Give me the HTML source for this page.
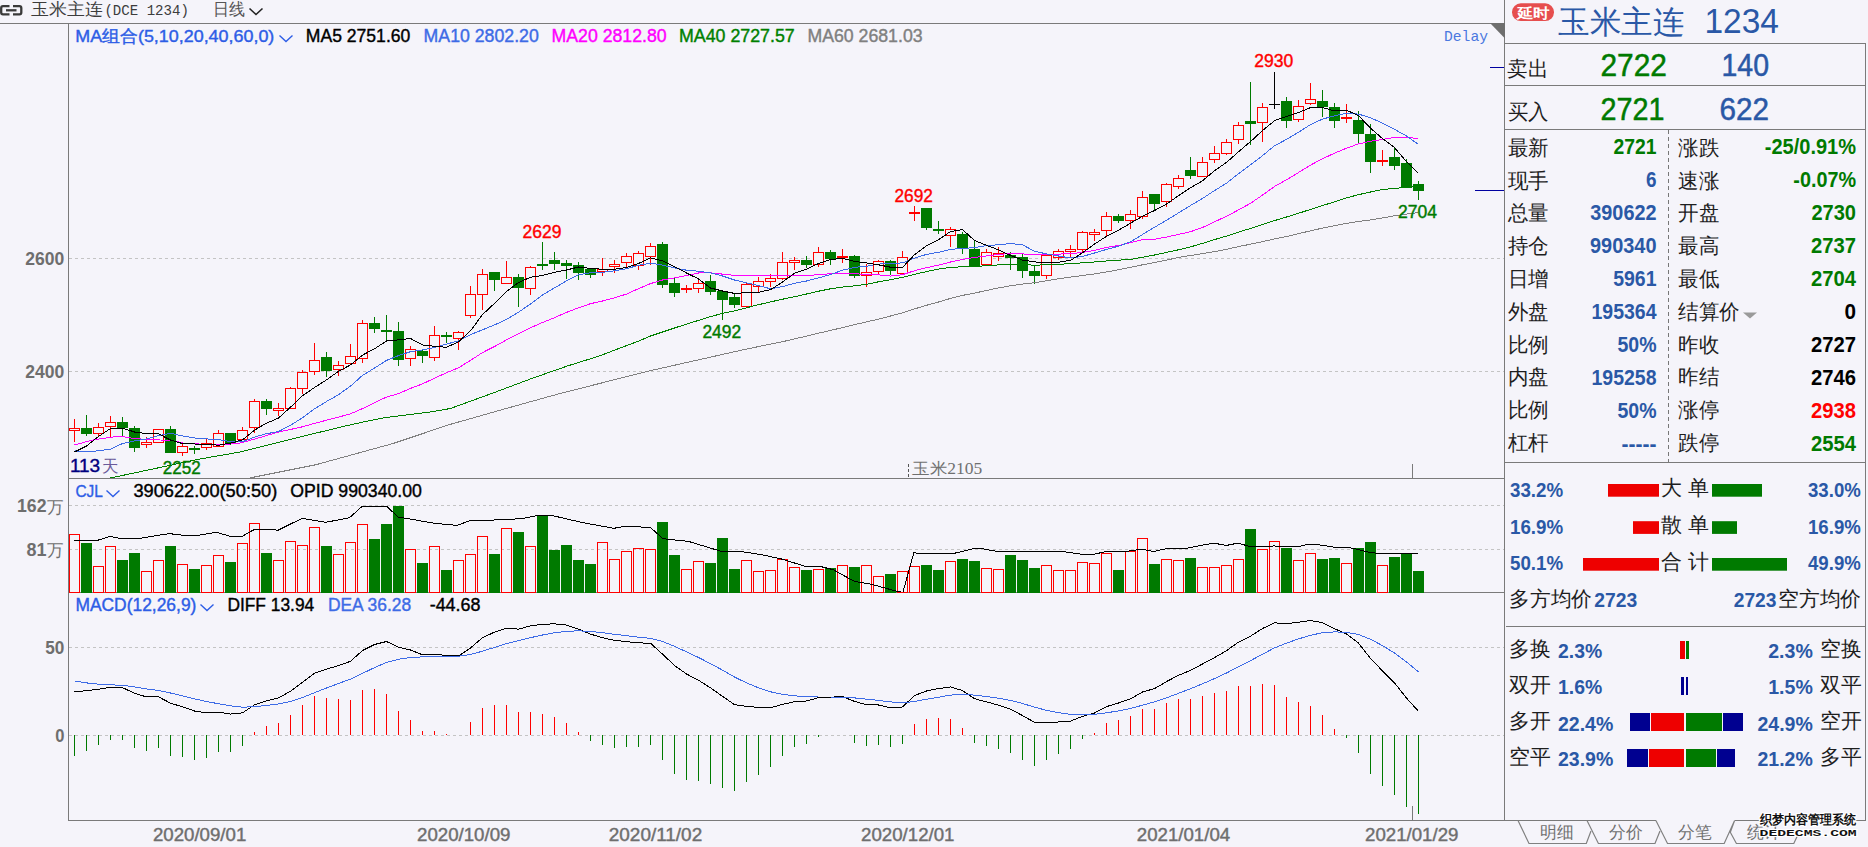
<!DOCTYPE html>
<html><head><meta charset="utf-8"><title>chart</title>
<style>html,body{margin:0;padding:0;background:#f5f4fa;width:1868px;height:847px;overflow:hidden}</style>
</head><body>
<svg width="1868" height="847" viewBox="0 0 1868 847" style="display:block"><rect x="0" y="0" width="1868" height="847" fill="#f5f4fa"/><line x1="69" y1="258.5" x2="1504" y2="258.5" stroke="#c4c4c4" stroke-width="1" stroke-dasharray="3,3" shape-rendering="crispEdges"/><line x1="69" y1="371.5" x2="1504" y2="371.5" stroke="#c4c4c4" stroke-width="1" stroke-dasharray="3,3" shape-rendering="crispEdges"/><line x1="69" y1="505.5" x2="1504" y2="505.5" stroke="#c4c4c4" stroke-width="1" stroke-dasharray="3,3" shape-rendering="crispEdges"/><line x1="69" y1="549.5" x2="1504" y2="549.5" stroke="#c4c4c4" stroke-width="1" stroke-dasharray="3,3" shape-rendering="crispEdges"/><line x1="69" y1="647.5" x2="1504" y2="647.5" stroke="#c4c4c4" stroke-width="1" stroke-dasharray="3,3" shape-rendering="crispEdges"/><line x1="69" y1="735.5" x2="1504" y2="735.5" stroke="#c4c4c4" stroke-width="1" stroke-dasharray="3,3" shape-rendering="crispEdges"/><line x1="0" y1="23.5" x2="1505" y2="23.5" stroke="#7a7a7a" stroke-width="1.5" shape-rendering="crispEdges"/><line x1="68.5" y1="23" x2="68.5" y2="820.5" stroke="#7a7a7a" stroke-width="1.5" shape-rendering="crispEdges"/><line x1="1504.5" y1="0" x2="1504.5" y2="820.5" stroke="#7a7a7a" stroke-width="1.5" shape-rendering="crispEdges"/><line x1="68" y1="478.5" x2="1505" y2="478.5" stroke="#7a7a7a" stroke-width="1.5" shape-rendering="crispEdges"/><line x1="68" y1="592.5" x2="1505" y2="592.5" stroke="#7a7a7a" stroke-width="1.5" shape-rendering="crispEdges"/><line x1="68" y1="820.5" x2="1505" y2="820.5" stroke="#7a7a7a" stroke-width="1.5" shape-rendering="crispEdges"/><polygon points="1490,23 1505,23 1505,38.5" fill="#6e6e6e"/><line x1="1490" y1="67.5" x2="1504" y2="67.5" stroke="#0000a0" stroke-width="1.2" shape-rendering="crispEdges"/><line x1="1475" y1="190.5" x2="1504" y2="190.5" stroke="#0000a0" stroke-width="1.2" shape-rendering="crispEdges"/><line x1="1412.5" y1="464" x2="1412.5" y2="478" stroke="#7a7a7a" stroke-width="1.2" shape-rendering="crispEdges"/><line x1="1412.5" y1="806" x2="1412.5" y2="820" stroke="#7a7a7a" stroke-width="1.2" shape-rendering="crispEdges"/><line x1="908.5" y1="464" x2="908.5" y2="478" stroke="#555" stroke-width="1" stroke-dasharray="3,2" shape-rendering="crispEdges"/><g shape-rendering="crispEdges"><rect x="74.0" y="419.0" width="1" height="23.0" fill="#ff0000"/><rect x="69.5" y="428.5" width="10" height="2.0" fill="#f5f4fa" stroke="#ff0000" stroke-width="1"/><rect x="86.0" y="415.0" width="1" height="21.0" fill="#007a00"/><rect x="81.0" y="428.0" width="11" height="6.0" fill="#007a00"/><rect x="98.0" y="423.0" width="1" height="13.0" fill="#ff0000"/><rect x="93.5" y="427.5" width="10" height="6.0" fill="#f5f4fa" stroke="#ff0000" stroke-width="1"/><rect x="110.0" y="416.0" width="1" height="21.0" fill="#ff0000"/><rect x="105.5" y="422.5" width="10" height="4.0" fill="#f5f4fa" stroke="#ff0000" stroke-width="1"/><rect x="122.0" y="417.0" width="1" height="19.0" fill="#007a00"/><rect x="117.0" y="422.0" width="11" height="6.0" fill="#007a00"/><rect x="134.0" y="426.0" width="1" height="26.0" fill="#007a00"/><rect x="129.0" y="428.0" width="11" height="20.0" fill="#007a00"/><rect x="146.0" y="437.0" width="1" height="11.0" fill="#ff0000"/><rect x="141.5" y="442.0" width="10" height="2.0" fill="#f5f4fa" stroke="#ff0000" stroke-width="1"/><rect x="158.0" y="429.0" width="1" height="13.5" fill="#ff0000"/><rect x="153.5" y="429.0" width="10" height="13.5" fill="#f5f4fa" stroke="#ff0000" stroke-width="1"/><rect x="170.0" y="426.0" width="1" height="27.0" fill="#007a00"/><rect x="165.0" y="429.0" width="11" height="24.0" fill="#007a00"/><rect x="182.0" y="444.0" width="1" height="12.0" fill="#ff0000"/><rect x="177.5" y="446.0" width="10" height="6.5" fill="#f5f4fa" stroke="#ff0000" stroke-width="1"/><rect x="194.0" y="446.0" width="1" height="8.0" fill="#007a00"/><rect x="189.0" y="448.0" width="11" height="2.0" fill="#007a00"/><rect x="206.0" y="438.5" width="1" height="11.5" fill="#ff0000"/><rect x="201.5" y="443.5" width="10" height="4.0" fill="#f5f4fa" stroke="#ff0000" stroke-width="1"/><rect x="218.0" y="430.0" width="1" height="17.0" fill="#ff0000"/><rect x="213.5" y="433.5" width="10" height="12.5" fill="#f5f4fa" stroke="#ff0000" stroke-width="1"/><rect x="230.0" y="433.0" width="1" height="12.0" fill="#007a00"/><rect x="225.0" y="433.0" width="11" height="9.5" fill="#007a00"/><rect x="242.0" y="427.0" width="1" height="13.0" fill="#ff0000"/><rect x="237.5" y="430.0" width="10" height="9.0" fill="#f5f4fa" stroke="#ff0000" stroke-width="1"/><rect x="254.0" y="399.3" width="1" height="33.2" fill="#ff0000"/><rect x="249.5" y="401.2" width="10" height="26.2" fill="#f5f4fa" stroke="#ff0000" stroke-width="1"/><rect x="266.0" y="399.3" width="1" height="15.4" fill="#007a00"/><rect x="261.0" y="401.2" width="11" height="7.4" fill="#007a00"/><rect x="278.0" y="403.1" width="1" height="12.6" fill="#ff0000"/><rect x="273.5" y="408.2" width="10" height="2.4" fill="#f5f4fa" stroke="#ff0000" stroke-width="1"/><rect x="290.0" y="387.2" width="1" height="22.2" fill="#ff0000"/><rect x="285.5" y="388.2" width="10" height="20.4" fill="#f5f4fa" stroke="#ff0000" stroke-width="1"/><rect x="302.0" y="370.2" width="1" height="23.3" fill="#ff0000"/><rect x="297.5" y="372.2" width="10" height="16.4" fill="#f5f4fa" stroke="#ff0000" stroke-width="1"/><rect x="314.0" y="343.1" width="1" height="31.5" fill="#ff0000"/><rect x="309.5" y="360.1" width="10" height="11.3" fill="#f5f4fa" stroke="#ff0000" stroke-width="1"/><rect x="326.0" y="352.1" width="1" height="24.4" fill="#007a00"/><rect x="321.0" y="357.2" width="11" height="13.5" fill="#007a00"/><rect x="338.0" y="361.1" width="1" height="14.7" fill="#ff0000"/><rect x="333.5" y="365.2" width="10" height="4.4" fill="#f5f4fa" stroke="#ff0000" stroke-width="1"/><rect x="350.0" y="344.0" width="1" height="19.5" fill="#ff0000"/><rect x="345.5" y="356.3" width="10" height="7.2" fill="#f5f4fa" stroke="#ff0000" stroke-width="1"/><rect x="362.0" y="319.9" width="1" height="42.9" fill="#ff0000"/><rect x="357.5" y="323.2" width="10" height="35.3" fill="#f5f4fa" stroke="#ff0000" stroke-width="1"/><rect x="374.0" y="317.0" width="1" height="15.8" fill="#007a00"/><rect x="369.0" y="323.2" width="11" height="5.4" fill="#007a00"/><rect x="381.0" y="329.9" width="11" height="2" fill="#007a00"/><rect x="386.0" y="315.0" width="1" height="26.3" fill="#007a00"/><rect x="398.0" y="322.0" width="1" height="43.9" fill="#007a00"/><rect x="393.0" y="331.0" width="11" height="28.6" fill="#007a00"/><rect x="410.0" y="346.1" width="1" height="19.8" fill="#ff0000"/><rect x="405.5" y="349.2" width="10" height="9.2" fill="#f5f4fa" stroke="#ff0000" stroke-width="1"/><rect x="422.0" y="349.0" width="1" height="13.8" fill="#007a00"/><rect x="417.0" y="351.0" width="11" height="4.6" fill="#007a00"/><rect x="434.0" y="325.9" width="1" height="35.0" fill="#ff0000"/><rect x="429.5" y="335.3" width="10" height="22.2" fill="#f5f4fa" stroke="#ff0000" stroke-width="1"/><rect x="441.0" y="335.0" width="11" height="2" fill="#007a00"/><rect x="446.0" y="332.0" width="1" height="10.8" fill="#007a00"/><rect x="458.0" y="331.0" width="1" height="18.5" fill="#ff0000"/><rect x="453.5" y="332.2" width="10" height="6.4" fill="#f5f4fa" stroke="#ff0000" stroke-width="1"/><rect x="470.0" y="286.1" width="1" height="31.6" fill="#ff0000"/><rect x="465.5" y="294.3" width="10" height="21.2" fill="#f5f4fa" stroke="#ff0000" stroke-width="1"/><rect x="482.0" y="269.1" width="1" height="40.6" fill="#ff0000"/><rect x="477.5" y="274.3" width="10" height="20.0" fill="#f5f4fa" stroke="#ff0000" stroke-width="1"/><rect x="494.0" y="272.1" width="1" height="18.9" fill="#007a00"/><rect x="489.0" y="272.1" width="11" height="7.5" fill="#007a00"/><rect x="506.0" y="261.1" width="1" height="22.4" fill="#ff0000"/><rect x="501.5" y="277.3" width="10" height="6.2" fill="#f5f4fa" stroke="#ff0000" stroke-width="1"/><rect x="518.0" y="274.1" width="1" height="32.7" fill="#007a00"/><rect x="513.0" y="277.2" width="11" height="10.4" fill="#007a00"/><rect x="530.0" y="266.1" width="1" height="28.7" fill="#ff0000"/><rect x="525.5" y="267.1" width="10" height="21.4" fill="#f5f4fa" stroke="#ff0000" stroke-width="1"/><rect x="537.0" y="263.9" width="11" height="2" fill="#007a00"/><rect x="542.0" y="242.0" width="1" height="27.7" fill="#007a00"/><rect x="554.0" y="251.9" width="1" height="17.8" fill="#007a00"/><rect x="549.0" y="260.1" width="11" height="3.7" fill="#007a00"/><rect x="566.0" y="260.1" width="1" height="18.8" fill="#007a00"/><rect x="561.0" y="263.2" width="11" height="2.5" fill="#007a00"/><rect x="578.0" y="262.0" width="1" height="17.9" fill="#007a00"/><rect x="573.0" y="265.1" width="11" height="7.5" fill="#007a00"/><rect x="590.0" y="269.1" width="1" height="8.8" fill="#007a00"/><rect x="585.0" y="269.1" width="11" height="5.6" fill="#007a00"/><rect x="602.0" y="258.2" width="1" height="17.3" fill="#ff0000"/><rect x="597.5" y="269.3" width="10" height="2.4" fill="#f5f4fa" stroke="#ff0000" stroke-width="1"/><rect x="614.0" y="260.1" width="1" height="12.5" fill="#ff0000"/><rect x="609.5" y="264.2" width="10" height="2.4" fill="#f5f4fa" stroke="#ff0000" stroke-width="1"/><rect x="626.0" y="253.2" width="1" height="13.8" fill="#ff0000"/><rect x="621.5" y="256.2" width="10" height="6.3" fill="#f5f4fa" stroke="#ff0000" stroke-width="1"/><rect x="638.0" y="251.2" width="1" height="18.5" fill="#ff0000"/><rect x="633.5" y="253.3" width="10" height="12.1" fill="#f5f4fa" stroke="#ff0000" stroke-width="1"/><rect x="650.0" y="243.0" width="1" height="21.7" fill="#ff0000"/><rect x="645.5" y="246.1" width="10" height="10.3" fill="#f5f4fa" stroke="#ff0000" stroke-width="1"/><rect x="662.0" y="242.3" width="1" height="45.5" fill="#007a00"/><rect x="657.0" y="244.2" width="11" height="40.5" fill="#007a00"/><rect x="674.0" y="278.1" width="1" height="18.6" fill="#007a00"/><rect x="669.0" y="283.2" width="11" height="9.5" fill="#007a00"/><rect x="681.0" y="287.9" width="11" height="2" fill="#ff0000"/><rect x="686.0" y="285.2" width="1" height="7.7" fill="#ff0000"/><rect x="698.0" y="278.1" width="1" height="14.8" fill="#ff0000"/><rect x="693.5" y="283.2" width="10" height="5.3" fill="#f5f4fa" stroke="#ff0000" stroke-width="1"/><rect x="710.0" y="275.0" width="1" height="19.8" fill="#007a00"/><rect x="705.0" y="281.0" width="11" height="10.6" fill="#007a00"/><rect x="722.0" y="290.6" width="1" height="28.9" fill="#007a00"/><rect x="717.0" y="290.6" width="11" height="9.0" fill="#007a00"/><rect x="734.0" y="293.8" width="1" height="14.0" fill="#007a00"/><rect x="729.0" y="296.9" width="11" height="7.8" fill="#007a00"/><rect x="746.0" y="283.2" width="1" height="23.2" fill="#ff0000"/><rect x="741.5" y="284.2" width="10" height="22.2" fill="#f5f4fa" stroke="#ff0000" stroke-width="1"/><rect x="758.0" y="277.2" width="1" height="15.7" fill="#ff0000"/><rect x="753.5" y="281.3" width="10" height="5.0" fill="#f5f4fa" stroke="#ff0000" stroke-width="1"/><rect x="770.0" y="274.3" width="1" height="12.3" fill="#ff0000"/><rect x="765.5" y="278.1" width="10" height="3.2" fill="#f5f4fa" stroke="#ff0000" stroke-width="1"/><rect x="782.0" y="252.2" width="1" height="27.7" fill="#ff0000"/><rect x="777.5" y="262.2" width="10" height="16.2" fill="#f5f4fa" stroke="#ff0000" stroke-width="1"/><rect x="794.0" y="257.1" width="1" height="12.6" fill="#ff0000"/><rect x="789.5" y="260.4" width="10" height="2.2" fill="#f5f4fa" stroke="#ff0000" stroke-width="1"/><rect x="806.0" y="255.9" width="1" height="12.5" fill="#007a00"/><rect x="801.0" y="260.0" width="11" height="4.6" fill="#007a00"/><rect x="818.0" y="247.0" width="1" height="19.5" fill="#ff0000"/><rect x="813.5" y="252.3" width="10" height="12.1" fill="#f5f4fa" stroke="#ff0000" stroke-width="1"/><rect x="830.0" y="250.1" width="1" height="14.7" fill="#007a00"/><rect x="825.0" y="252.0" width="11" height="6.5" fill="#007a00"/><rect x="837.0" y="256.0" width="11" height="2" fill="#ff0000"/><rect x="842.0" y="249.2" width="1" height="13.5" fill="#ff0000"/><rect x="854.0" y="255.4" width="1" height="22.2" fill="#007a00"/><rect x="849.0" y="255.9" width="11" height="19.8" fill="#007a00"/><rect x="866.0" y="264.1" width="1" height="22.9" fill="#ff0000"/><rect x="861.5" y="272.3" width="10" height="3.1" fill="#f5f4fa" stroke="#ff0000" stroke-width="1"/><rect x="878.0" y="260.0" width="1" height="13.7" fill="#ff0000"/><rect x="873.5" y="261.2" width="10" height="10.3" fill="#f5f4fa" stroke="#ff0000" stroke-width="1"/><rect x="890.0" y="260.2" width="1" height="14.5" fill="#007a00"/><rect x="885.0" y="261.0" width="11" height="9.6" fill="#007a00"/><rect x="902.0" y="251.1" width="1" height="22.2" fill="#ff0000"/><rect x="897.5" y="257.3" width="10" height="16.0" fill="#f5f4fa" stroke="#ff0000" stroke-width="1"/><rect x="909.0" y="211.8" width="11" height="2" fill="#ff0000"/><rect x="914.0" y="206.3" width="1" height="14.4" fill="#ff0000"/><rect x="926.0" y="208.2" width="1" height="21.7" fill="#007a00"/><rect x="921.0" y="208.2" width="11" height="19.8" fill="#007a00"/><rect x="933.0" y="228.9" width="11" height="2" fill="#007a00"/><rect x="938.0" y="221.0" width="1" height="12.7" fill="#007a00"/><rect x="950.0" y="227.2" width="1" height="19.6" fill="#ff0000"/><rect x="945.5" y="229.4" width="10" height="6.2" fill="#f5f4fa" stroke="#ff0000" stroke-width="1"/><rect x="962.0" y="232.3" width="1" height="21.7" fill="#007a00"/><rect x="957.0" y="234.2" width="11" height="13.5" fill="#007a00"/><rect x="974.0" y="240.4" width="1" height="26.0" fill="#007a00"/><rect x="969.0" y="249.0" width="11" height="17.4" fill="#007a00"/><rect x="986.0" y="249.0" width="1" height="15.7" fill="#ff0000"/><rect x="981.5" y="252.1" width="10" height="12.6" fill="#f5f4fa" stroke="#ff0000" stroke-width="1"/><rect x="998.0" y="247.1" width="1" height="13.5" fill="#ff0000"/><rect x="993.5" y="253.4" width="10" height="3.1" fill="#f5f4fa" stroke="#ff0000" stroke-width="1"/><rect x="1010.0" y="252.1" width="1" height="17.7" fill="#007a00"/><rect x="1005.0" y="255.0" width="11" height="2.9" fill="#007a00"/><rect x="1022.0" y="253.9" width="1" height="24.1" fill="#007a00"/><rect x="1017.0" y="257.2" width="11" height="13.3" fill="#007a00"/><rect x="1034.0" y="265.7" width="1" height="18.0" fill="#007a00"/><rect x="1029.0" y="271.2" width="11" height="4.6" fill="#007a00"/><rect x="1046.0" y="255.3" width="1" height="23.6" fill="#ff0000"/><rect x="1041.5" y="255.3" width="10" height="20.5" fill="#f5f4fa" stroke="#ff0000" stroke-width="1"/><rect x="1058.0" y="249.0" width="1" height="10.9" fill="#ff0000"/><rect x="1053.5" y="251.3" width="10" height="6.2" fill="#f5f4fa" stroke="#ff0000" stroke-width="1"/><rect x="1070.0" y="245.0" width="1" height="13.2" fill="#ff0000"/><rect x="1065.5" y="249.3" width="10" height="2.3" fill="#f5f4fa" stroke="#ff0000" stroke-width="1"/><rect x="1082.0" y="231.0" width="1" height="21.4" fill="#ff0000"/><rect x="1077.5" y="232.2" width="10" height="17.3" fill="#f5f4fa" stroke="#ff0000" stroke-width="1"/><rect x="1094.0" y="229.1" width="1" height="11.7" fill="#ff0000"/><rect x="1089.5" y="232.4" width="10" height="2.2" fill="#f5f4fa" stroke="#ff0000" stroke-width="1"/><rect x="1106.0" y="212.1" width="1" height="23.9" fill="#ff0000"/><rect x="1101.5" y="216.3" width="10" height="14.2" fill="#f5f4fa" stroke="#ff0000" stroke-width="1"/><rect x="1118.0" y="214.1" width="1" height="8.8" fill="#007a00"/><rect x="1113.0" y="216.2" width="11" height="4.6" fill="#007a00"/><rect x="1130.0" y="210.1" width="1" height="18.6" fill="#ff0000"/><rect x="1125.5" y="214.2" width="10" height="6.2" fill="#f5f4fa" stroke="#ff0000" stroke-width="1"/><rect x="1142.0" y="191.2" width="1" height="27.4" fill="#ff0000"/><rect x="1137.5" y="197.4" width="10" height="19.1" fill="#f5f4fa" stroke="#ff0000" stroke-width="1"/><rect x="1154.0" y="194.2" width="1" height="15.9" fill="#007a00"/><rect x="1149.0" y="194.2" width="11" height="9.6" fill="#007a00"/><rect x="1166.0" y="183.0" width="1" height="23.7" fill="#ff0000"/><rect x="1161.5" y="184.1" width="10" height="17.3" fill="#f5f4fa" stroke="#ff0000" stroke-width="1"/><rect x="1178.0" y="175.1" width="1" height="13.8" fill="#ff0000"/><rect x="1173.5" y="178.3" width="10" height="8.2" fill="#f5f4fa" stroke="#ff0000" stroke-width="1"/><rect x="1190.0" y="157.0" width="1" height="21.8" fill="#007a00"/><rect x="1185.0" y="170.3" width="11" height="5.3" fill="#007a00"/><rect x="1202.0" y="157.0" width="1" height="19.7" fill="#ff0000"/><rect x="1197.5" y="162.3" width="10" height="14.4" fill="#f5f4fa" stroke="#ff0000" stroke-width="1"/><rect x="1214.0" y="146.1" width="1" height="16.5" fill="#ff0000"/><rect x="1209.5" y="153.5" width="10" height="5.9" fill="#f5f4fa" stroke="#ff0000" stroke-width="1"/><rect x="1226.0" y="139.3" width="1" height="15.3" fill="#ff0000"/><rect x="1221.5" y="142.2" width="10" height="11.4" fill="#f5f4fa" stroke="#ff0000" stroke-width="1"/><rect x="1238.0" y="122.1" width="1" height="21.5" fill="#ff0000"/><rect x="1233.5" y="125.5" width="10" height="13.8" fill="#f5f4fa" stroke="#ff0000" stroke-width="1"/><rect x="1250.0" y="82.2" width="1" height="62.4" fill="#007a00"/><rect x="1245.0" y="121.3" width="11" height="3.1" fill="#007a00"/><rect x="1262.0" y="103.2" width="1" height="38.5" fill="#ff0000"/><rect x="1257.5" y="107.4" width="10" height="14.9" fill="#f5f4fa" stroke="#ff0000" stroke-width="1"/><rect x="1269.0" y="103.9" width="11" height="1.2" fill="#000000"/><rect x="1274.0" y="72.1" width="1" height="36.4" fill="#000000"/><rect x="1286.0" y="97.0" width="1" height="30.6" fill="#007a00"/><rect x="1281.0" y="101.1" width="11" height="19.6" fill="#007a00"/><rect x="1298.0" y="100.0" width="1" height="21.6" fill="#ff0000"/><rect x="1293.5" y="106.4" width="10" height="13.1" fill="#f5f4fa" stroke="#ff0000" stroke-width="1"/><rect x="1310.0" y="83.0" width="1" height="21.8" fill="#ff0000"/><rect x="1305.5" y="99.5" width="10" height="3.9" fill="#f5f4fa" stroke="#ff0000" stroke-width="1"/><rect x="1322.0" y="90.2" width="1" height="26.3" fill="#007a00"/><rect x="1317.0" y="101.1" width="11" height="6.1" fill="#007a00"/><rect x="1334.0" y="103.0" width="1" height="24.8" fill="#007a00"/><rect x="1329.0" y="107.2" width="11" height="13.5" fill="#007a00"/><rect x="1341.0" y="116.9" width="11" height="2" fill="#ff0000"/><rect x="1346.0" y="104.0" width="1" height="18.9" fill="#ff0000"/><rect x="1358.0" y="111.2" width="1" height="31.4" fill="#007a00"/><rect x="1353.0" y="120.2" width="11" height="13.3" fill="#007a00"/><rect x="1370.0" y="124.2" width="1" height="48.5" fill="#007a00"/><rect x="1365.0" y="134.2" width="11" height="27.7" fill="#007a00"/><rect x="1377.0" y="159.9" width="11" height="2" fill="#ff0000"/><rect x="1382.0" y="150.2" width="1" height="15.6" fill="#ff0000"/><rect x="1394.0" y="147.2" width="1" height="22.6" fill="#007a00"/><rect x="1389.0" y="157.1" width="11" height="8.7" fill="#007a00"/><rect x="1406.0" y="159.1" width="1" height="28.5" fill="#007a00"/><rect x="1401.0" y="163.1" width="11" height="24.5" fill="#007a00"/><rect x="1418.0" y="181.0" width="1" height="19.0" fill="#007a00"/><rect x="1413.0" y="184.1" width="11" height="6.7" fill="#007a00"/></g><defs><clipPath id="cp"><rect x="69" y="24" width="1435" height="454"/></clipPath><clipPath id="cv"><rect x="69" y="479" width="1435" height="113"/></clipPath></defs><g clip-path="url(#cp)"><path d="M230.0,482.5 L251.0,477.7 L315.6,464.8 L392.7,443.6 L450.5,424.3 L508.3,407.9 L560.0,393.5 L648.5,371.1 L744.8,349.4 L782.5,341.7 L794.5,338.9 L806.5,336.1 L818.5,333.2 L830.5,330.4 L842.5,327.6 L854.5,324.7 L866.5,321.9 L878.5,319.1 L890.5,316.0 L902.5,312.9 L914.5,308.9 L926.5,305.3 L938.5,302.0 L950.5,298.4 L962.5,295.4 L974.5,293.1 L986.5,290.5 L998.5,287.9 L1010.5,285.8 L1022.5,284.1 L1034.5,282.7 L1046.5,280.7 L1058.5,278.8 L1070.5,277.1 L1082.5,275.5 L1094.5,273.9 L1106.5,272.0 L1118.5,269.7 L1130.5,267.4 L1142.5,264.8 L1154.5,262.6 L1166.5,260.1 L1178.5,257.5 L1190.5,255.5 L1202.5,253.7 L1214.5,251.6 L1226.5,249.3 L1238.5,246.6 L1250.5,244.2 L1262.5,241.6 L1274.5,238.9 L1286.5,236.5 L1298.5,233.7 L1310.5,230.8 L1322.5,228.1 L1334.5,225.7 L1346.5,223.4 L1358.5,221.4 L1370.5,220.0 L1382.5,217.9 L1394.5,215.8 L1406.5,214.1 L1418.5,212.6" fill="none" stroke="#808080" stroke-width="1" shape-rendering="crispEdges"/><path d="M74.5,486.0 L112.3,477.6 L200.0,459.0 L238.5,452.3 L296.4,437.8 L354.2,423.9 L385.0,417.6 L431.3,411.8 L450.5,408.5 L489.0,394.5 L527.6,380.0 L542.5,374.7 L554.5,370.6 L566.5,366.3 L578.5,362.5 L590.5,358.8 L602.5,354.8 L614.5,350.2 L626.5,345.6 L638.5,341.2 L650.5,336.0 L662.5,332.0 L674.5,328.0 L686.5,324.1 L698.5,320.4 L710.5,316.6 L722.5,313.4 L734.5,310.9 L746.5,307.8 L758.5,304.7 L770.5,301.9 L782.5,299.2 L794.5,296.7 L806.5,294.0 L818.5,291.2 L830.5,288.8 L842.5,287.1 L854.5,285.8 L866.5,284.3 L878.5,281.8 L890.5,279.8 L902.5,277.4 L914.5,274.3 L926.5,271.6 L938.5,269.1 L950.5,267.4 L962.5,266.8 L974.5,266.4 L986.5,265.8 L998.5,264.9 L1010.5,264.7 L1022.5,264.8 L1034.5,265.1 L1046.5,264.9 L1058.5,264.3 L1070.5,263.7 L1082.5,262.8 L1094.5,262.0 L1106.5,261.0 L1118.5,260.2 L1130.5,259.4 L1142.5,257.2 L1154.5,255.0 L1166.5,252.4 L1178.5,249.8 L1190.5,246.9 L1202.5,243.4 L1214.5,239.6 L1226.5,236.1 L1238.5,232.2 L1250.5,228.4 L1262.5,224.5 L1274.5,220.6 L1286.5,217.0 L1298.5,213.3 L1310.5,209.4 L1322.5,205.6 L1334.5,201.8 L1346.5,197.9 L1358.5,194.7 L1370.5,192.0 L1382.5,189.5 L1394.5,188.4 L1406.5,187.4 L1418.5,186.4" fill="none" stroke="#008000" stroke-width="1" shape-rendering="crispEdges"/><path d="M74.0,445.0 L94.9,439.5 L119.5,436.2 L133.5,438.4 L146.3,439.4 L172.0,440.5 L186.5,443.7 L210.5,444.3 L226.6,444.2 L238.0,443.5 L253.4,439.5 L277.1,432.4 L302.5,426.8 L314.5,423.4 L326.5,420.2 L338.5,417.1 L350.5,413.8 L362.5,408.6 L374.5,402.6 L386.5,397.1 L398.5,393.6 L410.5,388.4 L422.5,383.9 L434.5,378.2 L446.5,372.8 L458.5,367.8 L470.5,360.4 L482.5,352.6 L494.5,346.5 L506.5,339.9 L518.5,333.9 L530.5,327.8 L542.5,322.5 L554.5,317.7 L566.5,312.4 L578.5,307.8 L590.5,303.7 L602.5,301.0 L614.5,297.8 L626.5,294.1 L638.5,288.7 L650.5,283.6 L662.5,280.0 L674.5,277.9 L686.5,275.5 L698.5,273.0 L710.5,272.9 L722.5,274.1 L734.5,275.4 L746.5,275.8 L758.5,275.4 L770.5,276.0 L782.5,275.8 L794.5,275.6 L806.5,275.6 L818.5,274.6 L830.5,273.8 L842.5,273.1 L854.5,273.7 L866.5,274.5 L878.5,274.9 L890.5,276.1 L902.5,274.7 L914.5,270.7 L926.5,267.7 L938.5,265.1 L950.5,262.0 L962.5,259.4 L974.5,257.5 L986.5,255.9 L998.5,254.5 L1010.5,253.4 L1022.5,253.9 L1034.5,254.6 L1046.5,254.2 L1058.5,254.1 L1070.5,253.7 L1082.5,252.5 L1094.5,250.3 L1106.5,247.5 L1118.5,245.5 L1130.5,242.7 L1142.5,239.7 L1154.5,239.2 L1166.5,237.1 L1178.5,234.4 L1190.5,231.7 L1202.5,227.5 L1214.5,221.8 L1226.5,216.3 L1238.5,209.9 L1250.5,203.3 L1262.5,195.1 L1274.5,186.5 L1286.5,179.8 L1298.5,172.5 L1310.5,165.1 L1322.5,158.8 L1334.5,153.2 L1346.5,148.2 L1358.5,143.9 L1370.5,141.3 L1382.5,139.4 L1394.5,137.5 L1406.5,137.7 L1418.5,138.3" fill="none" stroke="#ff00ff" stroke-width="1" shape-rendering="crispEdges"/><path d="M74.5,450.6 L80.5,451.6 L91.5,451.6 L110.3,449.2 L122.9,443.4 L134.4,441.0 L146.5,439.0 L158.5,435.7 L170.5,433.3 L182.5,435.9 L194.5,438.0 L206.5,438.9 L218.5,439.6 L230.5,441.6 L242.5,441.8 L254.5,437.1 L266.5,433.7 L278.5,431.6 L290.5,425.2 L302.5,417.8 L314.5,408.8 L326.5,401.5 L338.5,394.7 L350.5,386.1 L362.5,375.4 L374.5,368.1 L386.5,360.4 L398.5,355.6 L410.5,351.7 L422.5,350.0 L434.5,347.5 L446.5,344.1 L458.5,340.8 L470.5,334.6 L482.5,329.8 L494.5,324.9 L506.5,319.4 L518.5,312.2 L530.5,304.0 L542.5,295.0 L554.5,287.9 L566.5,280.8 L578.5,274.8 L590.5,272.8 L602.5,272.3 L614.5,270.8 L626.5,268.7 L638.5,265.3 L650.5,263.2 L662.5,265.1 L674.5,267.9 L686.5,270.2 L698.5,271.2 L710.5,272.9 L722.5,276.0 L734.5,280.0 L746.5,282.8 L758.5,285.6 L770.5,288.8 L782.5,286.6 L794.5,283.3 L806.5,281.0 L818.5,277.9 L830.5,274.6 L842.5,270.2 L854.5,267.4 L866.5,266.2 L878.5,264.1 L890.5,263.4 L902.5,262.9 L914.5,258.1 L926.5,254.4 L938.5,252.3 L950.5,249.3 L962.5,248.5 L974.5,247.6 L986.5,245.6 L998.5,244.8 L1010.5,243.5 L1022.5,244.8 L1034.5,251.2 L1046.5,253.9 L1058.5,256.0 L1070.5,258.0 L1082.5,256.4 L1094.5,253.0 L1106.5,249.4 L1118.5,246.2 L1130.5,241.8 L1142.5,234.5 L1154.5,227.3 L1166.5,220.2 L1178.5,212.9 L1190.5,205.5 L1202.5,198.5 L1214.5,190.6 L1226.5,183.2 L1238.5,173.7 L1250.5,164.7 L1262.5,155.7 L1274.5,145.7 L1286.5,139.4 L1298.5,132.2 L1310.5,124.6 L1322.5,119.1 L1334.5,115.8 L1346.5,113.3 L1358.5,114.1 L1370.5,117.8 L1382.5,123.1 L1394.5,129.3 L1406.5,136.0 L1418.5,144.4" fill="none" stroke="#3d6be6" stroke-width="1" shape-rendering="crispEdges"/><path d="M74.5,452.0 L86.5,446.0 L98.5,436.5 L110.5,428.6 L122.5,428.1 L134.5,432.0 L146.5,433.6 L158.5,433.9 L170.5,440.0 L182.5,443.6 L194.5,444.0 L206.5,444.3 L218.5,445.2 L230.5,443.1 L242.5,439.9 L254.5,430.1 L266.5,423.2 L278.5,418.1 L290.5,407.2 L302.5,395.7 L314.5,387.5 L326.5,379.9 L338.5,371.3 L350.5,364.9 L362.5,355.1 L374.5,348.8 L386.5,341.0 L398.5,339.9 L410.5,338.5 L422.5,344.9 L434.5,346.3 L446.5,347.3 L458.5,341.8 L470.5,330.8 L482.5,314.6 L494.5,303.4 L506.5,291.5 L518.5,282.6 L530.5,277.2 L542.5,275.5 L554.5,272.3 L566.5,270.0 L578.5,267.0 L590.5,268.5 L602.5,269.2 L614.5,269.3 L626.5,267.4 L638.5,263.5 L650.5,257.8 L662.5,260.9 L674.5,266.6 L686.5,273.0 L698.5,278.9 L710.5,288.0 L722.5,291.0 L734.5,293.4 L746.5,292.7 L758.5,292.3 L770.5,289.6 L782.5,282.1 L794.5,273.2 L806.5,269.3 L818.5,263.5 L830.5,259.6 L842.5,258.4 L854.5,261.5 L866.5,263.0 L878.5,264.8 L890.5,267.2 L902.5,267.4 L914.5,254.7 L926.5,245.8 L938.5,239.7 L950.5,231.5 L962.5,229.6 L974.5,240.5 L986.5,245.3 L998.5,249.8 L1010.5,255.5 L1022.5,260.1 L1034.5,261.9 L1046.5,262.6 L1058.5,262.2 L1070.5,260.4 L1082.5,252.8 L1094.5,244.1 L1106.5,236.3 L1118.5,230.2 L1130.5,223.2 L1142.5,216.2 L1154.5,210.5 L1166.5,204.1 L1178.5,195.6 L1190.5,187.8 L1202.5,180.8 L1214.5,170.8 L1226.5,162.4 L1238.5,151.8 L1250.5,141.6 L1262.5,130.6 L1274.5,120.7 L1286.5,116.4 L1298.5,112.6 L1310.5,107.6 L1322.5,107.6 L1334.5,110.9 L1346.5,110.2 L1358.5,115.6 L1370.5,128.1 L1382.5,138.6 L1394.5,147.6 L1406.5,161.8 L1418.5,173.2" fill="none" stroke="#000000" stroke-width="1" shape-rendering="crispEdges"/></g><g shape-rendering="crispEdges"><rect x="69.5" y="534.1" width="10" height="57.9" fill="none" stroke="#ff0000" stroke-width="1"/><rect x="81.0" y="542.9" width="11" height="49.6" fill="#007a00"/><rect x="93.5" y="566.4" width="10" height="25.6" fill="none" stroke="#ff0000" stroke-width="1"/><rect x="105.5" y="546.3" width="10" height="45.7" fill="none" stroke="#ff0000" stroke-width="1"/><rect x="117.0" y="560.0" width="11" height="32.5" fill="#007a00"/><rect x="129.0" y="552.9" width="11" height="39.6" fill="#007a00"/><rect x="141.5" y="571.4" width="10" height="20.6" fill="none" stroke="#ff0000" stroke-width="1"/><rect x="153.5" y="560.2" width="10" height="31.8" fill="none" stroke="#ff0000" stroke-width="1"/><rect x="165.0" y="546.0" width="11" height="46.5" fill="#007a00"/><rect x="177.5" y="564.2" width="10" height="27.8" fill="none" stroke="#ff0000" stroke-width="1"/><rect x="189.0" y="568.7" width="11" height="23.8" fill="#007a00"/><rect x="201.5" y="565.1" width="10" height="26.9" fill="none" stroke="#ff0000" stroke-width="1"/><rect x="213.5" y="555.1" width="10" height="36.9" fill="none" stroke="#ff0000" stroke-width="1"/><rect x="225.0" y="562.0" width="11" height="30.5" fill="#007a00"/><rect x="237.5" y="543.2" width="10" height="48.8" fill="none" stroke="#ff0000" stroke-width="1"/><rect x="249.5" y="523.2" width="10" height="68.8" fill="none" stroke="#ff0000" stroke-width="1"/><rect x="261.0" y="552.9" width="11" height="39.6" fill="#007a00"/><rect x="273.5" y="560.2" width="10" height="31.8" fill="none" stroke="#ff0000" stroke-width="1"/><rect x="285.5" y="541.4" width="10" height="50.6" fill="none" stroke="#ff0000" stroke-width="1"/><rect x="297.5" y="545.1" width="10" height="46.9" fill="none" stroke="#ff0000" stroke-width="1"/><rect x="309.5" y="527.4" width="10" height="64.6" fill="none" stroke="#ff0000" stroke-width="1"/><rect x="321.0" y="546.0" width="11" height="46.5" fill="#007a00"/><rect x="333.5" y="554.2" width="10" height="37.8" fill="none" stroke="#ff0000" stroke-width="1"/><rect x="345.5" y="542.3" width="10" height="49.7" fill="none" stroke="#ff0000" stroke-width="1"/><rect x="357.5" y="524.1" width="10" height="67.9" fill="none" stroke="#ff0000" stroke-width="1"/><rect x="369.0" y="538.7" width="11" height="53.8" fill="#007a00"/><rect x="381.0" y="523.8" width="11" height="68.7" fill="#007a00"/><rect x="393.0" y="505.9" width="11" height="86.6" fill="#007a00"/><rect x="405.5" y="549.2" width="10" height="42.8" fill="none" stroke="#ff0000" stroke-width="1"/><rect x="417.0" y="562.9" width="11" height="29.6" fill="#007a00"/><rect x="429.5" y="546.3" width="10" height="45.7" fill="none" stroke="#ff0000" stroke-width="1"/><rect x="441.0" y="570.0" width="11" height="22.5" fill="#007a00"/><rect x="453.5" y="560.2" width="10" height="31.8" fill="none" stroke="#ff0000" stroke-width="1"/><rect x="465.5" y="554.2" width="10" height="37.8" fill="none" stroke="#ff0000" stroke-width="1"/><rect x="477.5" y="536.3" width="10" height="55.7" fill="none" stroke="#ff0000" stroke-width="1"/><rect x="489.0" y="553.8" width="11" height="38.7" fill="#007a00"/><rect x="501.5" y="528.3" width="10" height="63.7" fill="none" stroke="#ff0000" stroke-width="1"/><rect x="513.0" y="532.0" width="11" height="60.5" fill="#007a00"/><rect x="525.5" y="546.3" width="10" height="45.7" fill="none" stroke="#ff0000" stroke-width="1"/><rect x="537.0" y="515.0" width="11" height="77.5" fill="#007a00"/><rect x="549.0" y="550.0" width="11" height="42.5" fill="#007a00"/><rect x="561.0" y="545.1" width="11" height="47.4" fill="#007a00"/><rect x="573.0" y="560.0" width="11" height="32.5" fill="#007a00"/><rect x="585.0" y="563.8" width="11" height="28.7" fill="#007a00"/><rect x="597.5" y="542.3" width="10" height="49.7" fill="none" stroke="#ff0000" stroke-width="1"/><rect x="609.5" y="559.3" width="10" height="32.7" fill="none" stroke="#ff0000" stroke-width="1"/><rect x="621.5" y="551.1" width="10" height="40.9" fill="none" stroke="#ff0000" stroke-width="1"/><rect x="633.5" y="548.3" width="10" height="43.7" fill="none" stroke="#ff0000" stroke-width="1"/><rect x="645.5" y="549.1" width="10" height="42.9" fill="none" stroke="#ff0000" stroke-width="1"/><rect x="657.0" y="521.9" width="11" height="70.6" fill="#007a00"/><rect x="669.0" y="555.1" width="11" height="37.4" fill="#007a00"/><rect x="681.5" y="569.3" width="10" height="22.7" fill="none" stroke="#ff0000" stroke-width="1"/><rect x="693.5" y="561.4" width="10" height="30.6" fill="none" stroke="#ff0000" stroke-width="1"/><rect x="705.0" y="562.9" width="11" height="29.6" fill="#007a00"/><rect x="717.0" y="538.1" width="11" height="54.4" fill="#007a00"/><rect x="729.0" y="569.1" width="11" height="23.4" fill="#007a00"/><rect x="741.5" y="560.2" width="10" height="31.8" fill="none" stroke="#ff0000" stroke-width="1"/><rect x="753.5" y="571.4" width="10" height="20.6" fill="none" stroke="#ff0000" stroke-width="1"/><rect x="765.5" y="570.2" width="10" height="21.8" fill="none" stroke="#ff0000" stroke-width="1"/><rect x="777.5" y="559.3" width="10" height="32.7" fill="none" stroke="#ff0000" stroke-width="1"/><rect x="789.5" y="567.3" width="10" height="24.7" fill="none" stroke="#ff0000" stroke-width="1"/><rect x="801.0" y="570.0" width="11" height="22.5" fill="#007a00"/><rect x="813.5" y="569.1" width="10" height="22.9" fill="none" stroke="#ff0000" stroke-width="1"/><rect x="825.0" y="568.2" width="11" height="24.3" fill="#007a00"/><rect x="837.5" y="565.1" width="10" height="26.9" fill="none" stroke="#ff0000" stroke-width="1"/><rect x="849.0" y="566.9" width="11" height="25.6" fill="#007a00"/><rect x="861.5" y="565.1" width="10" height="26.9" fill="none" stroke="#ff0000" stroke-width="1"/><rect x="873.5" y="576.4" width="10" height="15.6" fill="none" stroke="#ff0000" stroke-width="1"/><rect x="885.0" y="573.8" width="11" height="18.7" fill="#007a00"/><rect x="897.5" y="571.1" width="10" height="20.9" fill="none" stroke="#ff0000" stroke-width="1"/><rect x="909.5" y="566.4" width="10" height="25.6" fill="none" stroke="#ff0000" stroke-width="1"/><rect x="921.0" y="564.7" width="11" height="27.8" fill="#007a00"/><rect x="933.0" y="569.6" width="11" height="22.9" fill="#007a00"/><rect x="945.5" y="561.1" width="10" height="30.9" fill="none" stroke="#ff0000" stroke-width="1"/><rect x="957.0" y="558.7" width="11" height="33.8" fill="#007a00"/><rect x="969.0" y="560.9" width="11" height="31.6" fill="#007a00"/><rect x="981.5" y="568.2" width="10" height="23.8" fill="none" stroke="#ff0000" stroke-width="1"/><rect x="993.5" y="569.1" width="10" height="22.9" fill="none" stroke="#ff0000" stroke-width="1"/><rect x="1005.0" y="554.7" width="11" height="37.8" fill="#007a00"/><rect x="1017.0" y="559.6" width="11" height="32.9" fill="#007a00"/><rect x="1029.0" y="567.8" width="11" height="24.7" fill="#007a00"/><rect x="1041.5" y="565.1" width="10" height="26.9" fill="none" stroke="#ff0000" stroke-width="1"/><rect x="1053.5" y="570.1" width="10" height="21.9" fill="none" stroke="#ff0000" stroke-width="1"/><rect x="1065.5" y="570.2" width="10" height="21.8" fill="none" stroke="#ff0000" stroke-width="1"/><rect x="1077.5" y="562.3" width="10" height="29.7" fill="none" stroke="#ff0000" stroke-width="1"/><rect x="1089.5" y="563.3" width="10" height="28.7" fill="none" stroke="#ff0000" stroke-width="1"/><rect x="1101.5" y="553.2" width="10" height="38.8" fill="none" stroke="#ff0000" stroke-width="1"/><rect x="1113.0" y="570.0" width="11" height="22.5" fill="#007a00"/><rect x="1125.5" y="551.4" width="10" height="40.6" fill="none" stroke="#ff0000" stroke-width="1"/><rect x="1137.5" y="538.3" width="10" height="53.7" fill="none" stroke="#ff0000" stroke-width="1"/><rect x="1149.0" y="564.2" width="11" height="28.3" fill="#007a00"/><rect x="1161.5" y="559.3" width="10" height="32.7" fill="none" stroke="#ff0000" stroke-width="1"/><rect x="1173.5" y="560.2" width="10" height="31.8" fill="none" stroke="#ff0000" stroke-width="1"/><rect x="1185.0" y="558.2" width="11" height="34.3" fill="#007a00"/><rect x="1197.5" y="567.4" width="10" height="24.6" fill="none" stroke="#ff0000" stroke-width="1"/><rect x="1209.5" y="567.4" width="10" height="24.6" fill="none" stroke="#ff0000" stroke-width="1"/><rect x="1221.5" y="565.4" width="10" height="26.6" fill="none" stroke="#ff0000" stroke-width="1"/><rect x="1233.5" y="559.3" width="10" height="32.7" fill="none" stroke="#ff0000" stroke-width="1"/><rect x="1245.0" y="529.0" width="11" height="63.5" fill="#007a00"/><rect x="1257.5" y="549.2" width="10" height="42.8" fill="none" stroke="#ff0000" stroke-width="1"/><rect x="1269.5" y="541.4" width="10" height="50.6" fill="none" stroke="#ff0000" stroke-width="1"/><rect x="1281.0" y="548.1" width="11" height="44.4" fill="#007a00"/><rect x="1293.5" y="560.2" width="10" height="31.8" fill="none" stroke="#ff0000" stroke-width="1"/><rect x="1305.5" y="553.2" width="10" height="38.8" fill="none" stroke="#ff0000" stroke-width="1"/><rect x="1317.0" y="559.1" width="11" height="33.4" fill="#007a00"/><rect x="1329.0" y="558.1" width="11" height="34.4" fill="#007a00"/><rect x="1341.5" y="563.2" width="10" height="28.8" fill="none" stroke="#ff0000" stroke-width="1"/><rect x="1353.0" y="548.1" width="11" height="44.4" fill="#007a00"/><rect x="1365.0" y="542.1" width="11" height="50.4" fill="#007a00"/><rect x="1377.5" y="565.3" width="10" height="26.7" fill="none" stroke="#ff0000" stroke-width="1"/><rect x="1389.0" y="557.0" width="11" height="35.5" fill="#007a00"/><rect x="1401.0" y="553.3" width="11" height="39.2" fill="#007a00"/><rect x="1413.0" y="571.0" width="11" height="21.5" fill="#007a00"/></g><g clip-path="url(#cv)"><path d="M74.2,540.1 L98.2,540.1 L110.0,536.5 L122.8,539.0 L140.0,538.3 L169.2,533.6 L183.8,535.4 L200.2,535.0 L216.5,532.3 L231.1,536.5 L242.0,536.5 L254.8,529.2 L278.4,530.1 L302.1,518.3 L325.7,522.3 L349.4,517.8 L362.2,506.3 L386.7,506.3 L398.2,517.2 L408.2,518.7 L433.7,523.2 L457.3,525.4 L470.1,520.5 L499.2,519.9 L521.0,518.7 L535.6,515.9 L553.8,515.9 L581.1,522.3 L613.9,528.3 L624.8,526.3 L650.3,527.4 L663.0,538.7 L688.5,541.4 L721.3,551.4 L740.0,551.4 L761.9,554.7 L781.9,559.1 L805.5,566.4 L820.1,566.4 L832.9,569.6 L854.7,581.5 L871.1,584.2 L897.5,591.5 L902.9,592.4 L913.8,552.9 L920.2,553.2 L954.8,553.2 L974.8,548.3 L980.3,548.3 L996.7,551.4 L1029.4,551.4 L1064.6,551.8 L1080.9,554.2 L1094.6,554.2 L1104.6,551.8 L1126.4,551.4 L1141.0,549.2 L1153.7,551.4 L1168.3,548.3 L1186.5,548.3 L1204.7,544.7 L1213.8,543.2 L1226.6,545.4 L1237.5,543.2 L1250.2,546.5 L1273.9,546.0 L1299.4,546.3 L1307.4,544.3 L1316.1,544.6 L1324.8,545.6 L1333.5,547.1 L1349.6,547.7 L1358.3,549.5 L1369.4,552.3 L1376.9,553.3 L1417.8,553.3" fill="none" stroke="#000" stroke-width="1" shape-rendering="crispEdges"/></g><g shape-rendering="crispEdges"><rect x="74.0" y="735.3" width="1.2" height="21.0" fill="#007a00"/><rect x="86.0" y="735.3" width="1.2" height="15.8" fill="#007a00"/><rect x="98.0" y="735.3" width="1.2" height="10.0" fill="#007a00"/><rect x="110.0" y="735.3" width="1.2" height="4.8" fill="#007a00"/><rect x="122.0" y="735.3" width="1.2" height="4.5" fill="#007a00"/><rect x="134.0" y="735.3" width="1.2" height="12.8" fill="#007a00"/><rect x="146.0" y="735.3" width="1.2" height="15.9" fill="#007a00"/><rect x="158.0" y="735.3" width="1.2" height="12.7" fill="#007a00"/><rect x="170.0" y="735.3" width="1.2" height="20.3" fill="#007a00"/><rect x="182.0" y="735.3" width="1.2" height="22.0" fill="#007a00"/><rect x="194.0" y="735.3" width="1.2" height="24.3" fill="#007a00"/><rect x="206.0" y="735.3" width="1.2" height="22.5" fill="#007a00"/><rect x="218.0" y="735.3" width="1.2" height="16.8" fill="#007a00"/><rect x="230.0" y="735.3" width="1.2" height="16.6" fill="#007a00"/><rect x="242.0" y="735.3" width="1.2" height="11.1" fill="#007a00"/><rect x="254.0" y="731.5" width="1.2" height="3.8" fill="#ff0000"/><rect x="266.0" y="725.8" width="1.2" height="9.5" fill="#ff0000"/><rect x="278.0" y="723.1" width="1.2" height="12.2" fill="#ff0000"/><rect x="290.0" y="714.7" width="1.2" height="20.6" fill="#ff0000"/><rect x="302.0" y="704.8" width="1.2" height="30.5" fill="#ff0000"/><rect x="314.0" y="696.1" width="1.2" height="39.2" fill="#ff0000"/><rect x="326.0" y="697.7" width="1.2" height="37.6" fill="#ff0000"/><rect x="338.0" y="699.3" width="1.2" height="36.0" fill="#ff0000"/><rect x="350.0" y="699.6" width="1.2" height="35.7" fill="#ff0000"/><rect x="362.0" y="689.6" width="1.2" height="45.7" fill="#ff0000"/><rect x="374.0" y="689.0" width="1.2" height="46.3" fill="#ff0000"/><rect x="386.0" y="693.5" width="1.2" height="41.8" fill="#ff0000"/><rect x="398.0" y="710.9" width="1.2" height="24.4" fill="#ff0000"/><rect x="410.0" y="720.4" width="1.2" height="14.9" fill="#ff0000"/><rect x="422.0" y="731.0" width="1.2" height="4.3" fill="#ff0000"/><rect x="434.0" y="731.3" width="1.2" height="4.0" fill="#ff0000"/><rect x="446.0" y="733.7" width="1.2" height="1.6" fill="#ff0000"/><rect x="470.0" y="722.2" width="1.2" height="13.1" fill="#ff0000"/><rect x="482.0" y="708.4" width="1.2" height="26.9" fill="#ff0000"/><rect x="494.0" y="704.8" width="1.2" height="30.5" fill="#ff0000"/><rect x="506.0" y="704.9" width="1.2" height="30.4" fill="#ff0000"/><rect x="518.0" y="712.2" width="1.2" height="23.1" fill="#ff0000"/><rect x="530.0" y="711.7" width="1.2" height="23.6" fill="#ff0000"/><rect x="542.0" y="713.8" width="1.2" height="21.5" fill="#ff0000"/><rect x="554.0" y="717.3" width="1.2" height="18.0" fill="#ff0000"/><rect x="566.0" y="723.1" width="1.2" height="12.2" fill="#ff0000"/><rect x="578.0" y="732.0" width="1.2" height="3.3" fill="#ff0000"/><rect x="590.0" y="735.3" width="1.2" height="5.2" fill="#007a00"/><rect x="602.0" y="735.3" width="1.2" height="10.0" fill="#007a00"/><rect x="614.0" y="735.3" width="1.2" height="12.3" fill="#007a00"/><rect x="626.0" y="735.3" width="1.2" height="11.8" fill="#007a00"/><rect x="638.0" y="735.3" width="1.2" height="11.5" fill="#007a00"/><rect x="650.0" y="735.3" width="1.2" height="9.7" fill="#007a00"/><rect x="662.0" y="735.3" width="1.2" height="25.1" fill="#007a00"/><rect x="674.0" y="735.3" width="1.2" height="38.3" fill="#007a00"/><rect x="686.0" y="735.3" width="1.2" height="44.3" fill="#007a00"/><rect x="698.0" y="735.3" width="1.2" height="45.4" fill="#007a00"/><rect x="710.0" y="735.3" width="1.2" height="48.5" fill="#007a00"/><rect x="722.0" y="735.3" width="1.2" height="52.3" fill="#007a00"/><rect x="734.0" y="735.3" width="1.2" height="55.2" fill="#007a00"/><rect x="746.0" y="735.3" width="1.2" height="47.0" fill="#007a00"/><rect x="758.0" y="735.3" width="1.2" height="39.3" fill="#007a00"/><rect x="770.0" y="735.3" width="1.2" height="31.9" fill="#007a00"/><rect x="782.0" y="735.3" width="1.2" height="20.2" fill="#007a00"/><rect x="794.0" y="735.3" width="1.2" height="11.8" fill="#007a00"/><rect x="806.0" y="735.3" width="1.2" height="8.3" fill="#007a00"/><rect x="818.0" y="735.3" width="1.2" height="1.5" fill="#007a00"/><rect x="842.0" y="734.6" width="1.2" height="0.7" fill="#ff0000"/><rect x="854.0" y="735.3" width="1.2" height="7.2" fill="#007a00"/><rect x="866.0" y="735.3" width="1.2" height="11.0" fill="#007a00"/><rect x="878.0" y="735.3" width="1.2" height="9.2" fill="#007a00"/><rect x="890.0" y="735.3" width="1.2" height="11.9" fill="#007a00"/><rect x="902.0" y="735.3" width="1.2" height="8.3" fill="#007a00"/><rect x="914.0" y="723.5" width="1.2" height="11.8" fill="#ff0000"/><rect x="926.0" y="718.5" width="1.2" height="16.8" fill="#ff0000"/><rect x="938.0" y="718.1" width="1.2" height="17.2" fill="#ff0000"/><rect x="950.0" y="718.8" width="1.2" height="16.5" fill="#ff0000"/><rect x="962.0" y="728.1" width="1.2" height="7.2" fill="#ff0000"/><rect x="974.0" y="735.3" width="1.2" height="7.2" fill="#007a00"/><rect x="986.0" y="735.3" width="1.2" height="10.9" fill="#007a00"/><rect x="998.0" y="735.3" width="1.2" height="13.9" fill="#007a00"/><rect x="1010.0" y="735.3" width="1.2" height="17.5" fill="#007a00"/><rect x="1022.0" y="735.3" width="1.2" height="24.4" fill="#007a00"/><rect x="1034.0" y="735.3" width="1.2" height="30.2" fill="#007a00"/><rect x="1046.0" y="735.3" width="1.2" height="24.6" fill="#007a00"/><rect x="1058.0" y="735.3" width="1.2" height="18.7" fill="#007a00"/><rect x="1070.0" y="735.3" width="1.2" height="13.6" fill="#007a00"/><rect x="1082.0" y="735.3" width="1.2" height="3.3" fill="#007a00"/><rect x="1094.0" y="732.5" width="1.2" height="2.8" fill="#ff0000"/><rect x="1106.0" y="722.8" width="1.2" height="12.5" fill="#ff0000"/><rect x="1118.0" y="719.5" width="1.2" height="15.8" fill="#ff0000"/><rect x="1130.0" y="716.2" width="1.2" height="19.1" fill="#ff0000"/><rect x="1142.0" y="708.9" width="1.2" height="26.4" fill="#ff0000"/><rect x="1154.0" y="708.8" width="1.2" height="26.5" fill="#ff0000"/><rect x="1166.0" y="702.9" width="1.2" height="32.4" fill="#ff0000"/><rect x="1178.0" y="699.3" width="1.2" height="36.0" fill="#ff0000"/><rect x="1190.0" y="698.7" width="1.2" height="36.6" fill="#ff0000"/><rect x="1202.0" y="695.8" width="1.2" height="39.5" fill="#ff0000"/><rect x="1214.0" y="693.4" width="1.2" height="41.9" fill="#ff0000"/><rect x="1226.0" y="690.8" width="1.2" height="44.5" fill="#ff0000"/><rect x="1238.0" y="685.9" width="1.2" height="49.4" fill="#ff0000"/><rect x="1250.0" y="686.3" width="1.2" height="49.0" fill="#ff0000"/><rect x="1262.0" y="683.7" width="1.2" height="51.6" fill="#ff0000"/><rect x="1274.0" y="685.0" width="1.2" height="50.3" fill="#ff0000"/><rect x="1286.0" y="696.6" width="1.2" height="38.7" fill="#ff0000"/><rect x="1298.0" y="701.9" width="1.2" height="33.4" fill="#ff0000"/><rect x="1310.0" y="706.0" width="1.2" height="29.3" fill="#ff0000"/><rect x="1322.0" y="715.0" width="1.2" height="20.3" fill="#ff0000"/><rect x="1334.0" y="728.9" width="1.2" height="6.4" fill="#ff0000"/><rect x="1346.0" y="735.3" width="1.2" height="3.1" fill="#007a00"/><rect x="1358.0" y="735.3" width="1.2" height="17.3" fill="#007a00"/><rect x="1370.0" y="735.3" width="1.2" height="38.4" fill="#007a00"/><rect x="1382.0" y="735.3" width="1.2" height="50.6" fill="#007a00"/><rect x="1394.0" y="735.3" width="1.2" height="59.5" fill="#007a00"/><rect x="1406.0" y="735.3" width="1.2" height="72.1" fill="#007a00"/><rect x="1418.0" y="735.3" width="1.2" height="78.8" fill="#007a00"/></g><path d="M74.5,691.5 L86.5,690.8 L98.5,689.2 L110.5,687.2 L122.5,687.6 L134.5,693.3 L146.5,696.9 L158.5,696.8 L170.5,703.2 L182.5,706.8 L194.5,711.0 L206.5,712.9 L218.5,712.2 L230.5,714.1 L242.5,712.8 L254.5,704.8 L266.5,700.8 L278.5,697.9 L290.5,691.2 L302.5,682.4 L314.5,673.2 L326.5,669.2 L338.5,665.5 L350.5,661.3 L362.5,650.5 L374.5,644.5 L386.5,641.5 L398.5,647.1 L410.5,650.0 L422.5,654.8 L434.5,654.4 L446.5,655.4 L458.5,656.0 L470.5,648.0 L482.5,637.7 L494.5,632.1 L506.5,628.3 L518.5,629.1 L530.5,625.9 L542.5,624.3 L554.5,623.8 L566.5,625.1 L578.5,629.2 L590.5,634.1 L602.5,637.7 L614.5,640.4 L626.5,641.6 L638.5,642.9 L650.5,643.2 L662.5,654.1 L674.5,665.5 L686.5,674.0 L698.5,680.2 L710.5,687.8 L722.5,696.3 L734.5,704.6 L746.5,706.4 L758.5,707.4 L770.5,707.8 L782.5,704.4 L794.5,701.7 L806.5,701.0 L818.5,697.7 L830.5,697.2 L842.5,696.6 L854.5,701.4 L866.5,704.8 L878.5,705.0 L890.5,707.8 L902.5,707.0 L914.5,695.5 L926.5,691.0 L938.5,688.6 L950.5,686.9 L962.5,690.6 L974.5,698.7 L986.5,701.9 L998.5,705.1 L1010.5,709.1 L1022.5,715.6 L1034.5,722.3 L1046.5,722.6 L1058.5,722.0 L1070.5,721.1 L1082.5,716.4 L1094.5,713.0 L1106.5,706.6 L1118.5,703.0 L1130.5,698.9 L1142.5,692.0 L1154.5,688.6 L1166.5,681.6 L1178.5,675.3 L1190.5,670.4 L1202.5,664.0 L1214.5,657.6 L1226.5,650.7 L1238.5,642.1 L1250.5,636.2 L1262.5,628.5 L1274.5,622.8 L1286.5,623.7 L1298.5,622.2 L1310.5,620.6 L1322.5,622.6 L1334.5,628.7 L1346.5,633.9 L1358.5,643.1 L1370.5,658.5 L1382.5,670.9 L1394.5,682.8 L1406.5,698.1 L1418.5,711.3" fill="none" stroke="#000" stroke-width="1" shape-rendering="crispEdges"/><path d="M74.5,681.0 L86.5,682.9 L98.5,684.2 L110.5,684.8 L122.5,685.3 L134.5,686.9 L146.5,688.9 L158.5,690.5 L170.5,693.0 L182.5,695.8 L194.5,698.8 L206.5,701.6 L218.5,703.7 L230.5,705.8 L242.5,707.2 L254.5,706.7 L266.5,705.5 L278.5,704.0 L290.5,701.5 L302.5,697.6 L314.5,692.7 L326.5,688.0 L338.5,683.5 L350.5,679.1 L362.5,673.4 L374.5,667.6 L386.5,662.4 L398.5,659.3 L410.5,657.5 L422.5,656.9 L434.5,656.4 L446.5,656.2 L458.5,656.2 L470.5,654.5 L482.5,651.2 L494.5,647.4 L506.5,643.6 L518.5,640.7 L530.5,637.7 L542.5,635.0 L554.5,632.8 L566.5,631.3 L578.5,630.8 L590.5,631.5 L602.5,632.7 L614.5,634.3 L626.5,635.7 L638.5,637.2 L650.5,638.4 L662.5,641.5 L674.5,646.3 L686.5,651.8 L698.5,657.5 L710.5,663.6 L722.5,670.1 L734.5,677.0 L746.5,682.9 L758.5,687.8 L770.5,691.8 L782.5,694.3 L794.5,695.8 L806.5,696.8 L818.5,697.0 L830.5,697.0 L842.5,697.0 L854.5,697.9 L866.5,699.2 L878.5,700.4 L890.5,701.9 L902.5,702.9 L914.5,701.4 L926.5,699.3 L938.5,697.2 L950.5,695.1 L962.5,694.2 L974.5,695.1 L986.5,696.5 L998.5,698.2 L1010.5,700.4 L1022.5,703.4 L1034.5,707.2 L1046.5,710.3 L1058.5,712.6 L1070.5,714.3 L1082.5,714.7 L1094.5,714.4 L1106.5,712.8 L1118.5,710.9 L1130.5,708.5 L1142.5,705.2 L1154.5,701.8 L1166.5,697.8 L1178.5,693.3 L1190.5,688.7 L1202.5,683.8 L1214.5,678.6 L1226.5,673.0 L1238.5,666.8 L1250.5,660.7 L1262.5,654.2 L1274.5,647.9 L1286.5,643.1 L1298.5,638.9 L1310.5,635.3 L1322.5,632.7 L1334.5,631.9 L1346.5,632.3 L1358.5,634.5 L1370.5,639.3 L1382.5,645.6 L1394.5,653.0 L1406.5,662.0 L1418.5,671.9" fill="none" stroke="#3d6be6" stroke-width="1" shape-rendering="crispEdges"/><g fill="none" stroke="#3a3a3a" stroke-width="2.3"><path d="M9.5,6.2 H3 Q1.2,6.2 1.2,8 V12.6 Q1.2,14.4 3,14.4 H9.5"/><path d="M13,6.2 H19.5 Q21.3,6.2 21.3,8 V12.6 Q21.3,14.4 19.5,14.4 H13"/><line x1="6" y1="10.3" x2="16.5" y2="10.3"/></g><text x="31.3" y="15.2" font-size="17" fill="#3c3c3c" font-weight="normal" font-family="'Liberation Serif', serif" text-anchor="start" textLength="71.5" lengthAdjust="spacingAndGlyphs">玉米主连</text><text x="104.4" y="15.2" font-size="15" fill="#3c3c3c" font-weight="normal" font-family="'Liberation Mono', monospace" text-anchor="start" textLength="84.5" lengthAdjust="spacingAndGlyphs">(DCE 1234)</text><text x="212.8" y="15.2" font-size="17" fill="#555555" font-weight="normal" font-family="'Liberation Serif', serif" text-anchor="start" textLength="32" lengthAdjust="spacingAndGlyphs">日线</text><path d="M249.5,8.5 L256,14.5 L262.5,8.5" fill="none" stroke="#222" stroke-width="1.6"/><text x="75.3" y="42.3" font-size="17" fill="#2d5de6" font-weight="normal" font-family="'Liberation Sans', sans-serif" text-anchor="start" textLength="199" lengthAdjust="spacingAndGlyphs" stroke="#2d5de6" stroke-width="0.4">MA组合(5,10,20,40,60,0)</text><path d="M279.5,35.5 L286,41.5 L292.5,35.5" fill="none" stroke="#2d5de6" stroke-width="1.4"/><text x="305.8" y="42.2" font-size="18" fill="#000" font-weight="normal" font-family="'Liberation Sans', sans-serif" text-anchor="start" textLength="104.5" lengthAdjust="spacingAndGlyphs" stroke="#000" stroke-width="0.4">MA5 2751.60</text><text x="423.6" y="42.2" font-size="18" fill="#3d6be6" font-weight="normal" font-family="'Liberation Sans', sans-serif" text-anchor="start" textLength="115.2" lengthAdjust="spacingAndGlyphs" stroke="#3d6be6" stroke-width="0.4">MA10 2802.20</text><text x="551.5" y="42.2" font-size="18" fill="#ff00ff" font-weight="normal" font-family="'Liberation Sans', sans-serif" text-anchor="start" textLength="115.1" lengthAdjust="spacingAndGlyphs" stroke="#ff00ff" stroke-width="0.4">MA20 2812.80</text><text x="679" y="42.2" font-size="18" fill="#008000" font-weight="normal" font-family="'Liberation Sans', sans-serif" text-anchor="start" textLength="115.7" lengthAdjust="spacingAndGlyphs" stroke="#008000" stroke-width="0.4">MA40 2727.57</text><text x="807.4" y="42.2" font-size="18" fill="#808080" font-weight="normal" font-family="'Liberation Sans', sans-serif" text-anchor="start" textLength="115.2" lengthAdjust="spacingAndGlyphs" stroke="#808080" stroke-width="0.4">MA60 2681.03</text><text x="1444" y="40.5" font-size="15" fill="#4a78e0" font-weight="normal" font-family="'Liberation Mono', monospace" text-anchor="start" textLength="44" lengthAdjust="spacingAndGlyphs">Delay</text><text x="1254.3" y="67.4" font-size="18" fill="#ff0000" font-weight="normal" font-family="'Liberation Sans', sans-serif" text-anchor="start" textLength="39" lengthAdjust="spacingAndGlyphs" stroke="#ff0000" stroke-width="0.4">2930</text><text x="522.5" y="237.7" font-size="18" fill="#ff0000" font-weight="normal" font-family="'Liberation Sans', sans-serif" text-anchor="start" textLength="39" lengthAdjust="spacingAndGlyphs" stroke="#ff0000" stroke-width="0.4">2629</text><text x="894.5" y="201.7" font-size="18" fill="#ff0000" font-weight="normal" font-family="'Liberation Sans', sans-serif" text-anchor="start" textLength="38.5" lengthAdjust="spacingAndGlyphs" stroke="#ff0000" stroke-width="0.4">2692</text><text x="702.4" y="337.6" font-size="18" fill="#007a00" font-weight="normal" font-family="'Liberation Sans', sans-serif" text-anchor="start" textLength="38.8" lengthAdjust="spacingAndGlyphs" stroke="#007a00" stroke-width="0.4">2492</text><text x="162.8" y="473.7" font-size="18" fill="#007a00" font-weight="normal" font-family="'Liberation Sans', sans-serif" text-anchor="start" textLength="38" lengthAdjust="spacingAndGlyphs" stroke="#007a00" stroke-width="0.4">2252</text><text x="1398.1" y="218.2" font-size="18" fill="#007a00" font-weight="normal" font-family="'Liberation Sans', sans-serif" text-anchor="start" textLength="39" lengthAdjust="spacingAndGlyphs" stroke="#007a00" stroke-width="0.4">2704</text><text x="69.9" y="472.3" font-size="19" fill="#000080" font-weight="normal" font-family="'Liberation Sans', sans-serif" text-anchor="start" textLength="30.3" lengthAdjust="spacingAndGlyphs" stroke="#000080" stroke-width="0.4">113</text><text x="102" y="472.3" font-size="17" fill="#6a5a9a" font-weight="normal" font-family="'Liberation Sans', sans-serif" text-anchor="start" textLength="16.5" lengthAdjust="spacingAndGlyphs">天</text><text x="912.2" y="474" font-size="16" fill="#707070" font-weight="normal" font-family="'Liberation Serif', serif" text-anchor="start" textLength="70" lengthAdjust="spacingAndGlyphs">玉米2105</text><text x="64.2" y="264.8" font-size="17.5" fill="#6e6e6e" font-weight="bold" font-family="'Liberation Sans', sans-serif" text-anchor="end" textLength="39" lengthAdjust="spacingAndGlyphs">2600</text><text x="64.2" y="377.8" font-size="17.5" fill="#6e6e6e" font-weight="bold" font-family="'Liberation Sans', sans-serif" text-anchor="end" textLength="39" lengthAdjust="spacingAndGlyphs">2400</text><text x="46.5" y="512" font-size="17.5" fill="#6e6e6e" font-weight="bold" font-family="'Liberation Sans', sans-serif" text-anchor="end" textLength="29.5" lengthAdjust="spacingAndGlyphs">162</text><text x="47" y="512.5" font-size="16.5" fill="#6e6e6e" font-weight="normal" font-family="'Liberation Sans', sans-serif" text-anchor="start" textLength="16.5" lengthAdjust="spacingAndGlyphs">万</text><text x="46.5" y="555.5" font-size="17.5" fill="#6e6e6e" font-weight="bold" font-family="'Liberation Sans', sans-serif" text-anchor="end" textLength="20" lengthAdjust="spacingAndGlyphs">81</text><text x="47" y="556" font-size="16.5" fill="#6e6e6e" font-weight="normal" font-family="'Liberation Sans', sans-serif" text-anchor="start" textLength="16.5" lengthAdjust="spacingAndGlyphs">万</text><text x="64.4" y="654.1" font-size="17.5" fill="#6e6e6e" font-weight="bold" font-family="'Liberation Sans', sans-serif" text-anchor="end" textLength="19.1" lengthAdjust="spacingAndGlyphs">50</text><text x="64.4" y="741.9" font-size="17.5" fill="#6e6e6e" font-weight="bold" font-family="'Liberation Sans', sans-serif" text-anchor="end" textLength="9.2" lengthAdjust="spacingAndGlyphs">0</text><text x="75.4" y="497.1" font-size="17" fill="#2d5de6" font-weight="normal" font-family="'Liberation Sans', sans-serif" text-anchor="start" textLength="27.4" lengthAdjust="spacingAndGlyphs" stroke="#2d5de6" stroke-width="0.4">CJL</text><path d="M106.5,490.5 L113,496.5 L119.5,490.5" fill="none" stroke="#2d5de6" stroke-width="1.4"/><text x="133.4" y="497.3" font-size="18" fill="#000" font-weight="normal" font-family="'Liberation Sans', sans-serif" text-anchor="start" textLength="143.9" lengthAdjust="spacingAndGlyphs" stroke="#000" stroke-width="0.4">390622.00(50:50)</text><text x="290.2" y="497.3" font-size="18" fill="#000" font-weight="normal" font-family="'Liberation Sans', sans-serif" text-anchor="start" textLength="131.7" lengthAdjust="spacingAndGlyphs" stroke="#000" stroke-width="0.4">OPID 990340.00</text><text x="75.4" y="611.3" font-size="17.5" fill="#2d5de6" font-weight="normal" font-family="'Liberation Sans', sans-serif" text-anchor="start" textLength="121" lengthAdjust="spacingAndGlyphs" stroke="#2d5de6" stroke-width="0.4">MACD(12,26,9)</text><path d="M200.5,604.5 L207,610.5 L213.5,604.5" fill="none" stroke="#2d5de6" stroke-width="1.4"/><text x="227.4" y="611.1" font-size="18" fill="#000" font-weight="normal" font-family="'Liberation Sans', sans-serif" text-anchor="start" textLength="86.8" lengthAdjust="spacingAndGlyphs" stroke="#000" stroke-width="0.4">DIFF 13.94</text><text x="327.9" y="611.1" font-size="18" fill="#3d6be6" font-weight="normal" font-family="'Liberation Sans', sans-serif" text-anchor="start" textLength="83.2" lengthAdjust="spacingAndGlyphs" stroke="#3d6be6" stroke-width="0.4">DEA 36.28</text><text x="429.7" y="611.1" font-size="18" fill="#000" font-weight="normal" font-family="'Liberation Sans', sans-serif" text-anchor="start" textLength="50.8" lengthAdjust="spacingAndGlyphs" stroke="#000" stroke-width="0.4">-44.68</text><text x="152.9" y="840.7" font-size="17.5" fill="#6e6e6e" font-weight="normal" font-family="'Liberation Sans', sans-serif" text-anchor="start" textLength="93.4" lengthAdjust="spacingAndGlyphs" stroke="#6e6e6e" stroke-width="0.4">2020/09/01</text><text x="417" y="840.7" font-size="17.5" fill="#6e6e6e" font-weight="normal" font-family="'Liberation Sans', sans-serif" text-anchor="start" textLength="93.4" lengthAdjust="spacingAndGlyphs" stroke="#6e6e6e" stroke-width="0.4">2020/10/09</text><text x="608.8" y="840.7" font-size="17.5" fill="#6e6e6e" font-weight="normal" font-family="'Liberation Sans', sans-serif" text-anchor="start" textLength="93.4" lengthAdjust="spacingAndGlyphs" stroke="#6e6e6e" stroke-width="0.4">2020/11/02</text><text x="861.1" y="840.7" font-size="17.5" fill="#6e6e6e" font-weight="normal" font-family="'Liberation Sans', sans-serif" text-anchor="start" textLength="93.4" lengthAdjust="spacingAndGlyphs" stroke="#6e6e6e" stroke-width="0.4">2020/12/01</text><text x="1136.8" y="840.7" font-size="17.5" fill="#6e6e6e" font-weight="normal" font-family="'Liberation Sans', sans-serif" text-anchor="start" textLength="93.4" lengthAdjust="spacingAndGlyphs" stroke="#6e6e6e" stroke-width="0.4">2021/01/04</text><text x="1365" y="840.7" font-size="17.5" fill="#6e6e6e" font-weight="normal" font-family="'Liberation Sans', sans-serif" text-anchor="start" textLength="93.4" lengthAdjust="spacingAndGlyphs" stroke="#6e6e6e" stroke-width="0.4">2021/01/29</text><rect x="1512" y="3.3" width="42" height="17.7" rx="8.8" fill="#e64e4e"/><text x="1533" y="17.5" font-size="14" fill="#fff" font-weight="bold" font-family="'Liberation Sans', sans-serif" text-anchor="middle" textLength="33" lengthAdjust="spacingAndGlyphs">延时</text><text x="1558" y="32.5" font-size="32" fill="#2a58a6" font-weight="normal" font-family="'Liberation Sans', sans-serif" text-anchor="start" textLength="126" lengthAdjust="spacingAndGlyphs">玉米主连</text><text x="1704.5" y="33" font-size="35" fill="#2a58a6" font-weight="normal" font-family="'Liberation Sans', sans-serif" text-anchor="start" textLength="74.5" lengthAdjust="spacingAndGlyphs">1234</text><line x1="1504" y1="43.5" x2="1865.5" y2="43.5" stroke="#7a7a7a" stroke-width="1.5" shape-rendering="crispEdges"/><line x1="1865.5" y1="43" x2="1865.5" y2="820.5" stroke="#7a7a7a" stroke-width="1.5" shape-rendering="crispEdges"/><line x1="1504" y1="85.5" x2="1865.5" y2="85.5" stroke="#7a7a7a" stroke-width="1.5" shape-rendering="crispEdges"/><line x1="1504" y1="129.5" x2="1865.5" y2="129.5" stroke="#7a7a7a" stroke-width="1.5" shape-rendering="crispEdges"/><line x1="1668.5" y1="130" x2="1668.5" y2="461.5" stroke="#777" stroke-width="1" stroke-dasharray="4,3" shape-rendering="crispEdges"/><line x1="1504" y1="462.5" x2="1865.5" y2="462.5" stroke="#7a7a7a" stroke-width="1.5" shape-rendering="crispEdges"/><line x1="1506" y1="626.5" x2="1865.5" y2="626.5" stroke="#7a7a7a" stroke-width="1.5" shape-rendering="crispEdges"/><line x1="1480" y1="820.5" x2="1656" y2="820.5" stroke="#7a7a7a" stroke-width="1.5" shape-rendering="crispEdges"/><line x1="1734.6" y1="820.5" x2="1866" y2="820.5" stroke="#7a7a7a" stroke-width="1.5" shape-rendering="crispEdges"/><text x="1507" y="75.5" font-size="20.5" fill="#1e1e1e" font-weight="normal" font-family="'Liberation Sans', sans-serif" text-anchor="start" textLength="41" lengthAdjust="spacingAndGlyphs">卖出</text><text x="1600.5" y="76.2" font-size="31" fill="#007a00" font-weight="normal" font-family="'Liberation Sans', sans-serif" text-anchor="start" textLength="66.5" lengthAdjust="spacingAndGlyphs" stroke="#007a00" stroke-width="0.5">2722</text><text x="1721.5" y="75.6" font-size="31" fill="#2a58a6" font-weight="normal" font-family="'Liberation Sans', sans-serif" text-anchor="start" textLength="47.5" lengthAdjust="spacingAndGlyphs" stroke="#2a58a6" stroke-width="0.5">140</text><text x="1507.7" y="119" font-size="20.5" fill="#1e1e1e" font-weight="normal" font-family="'Liberation Sans', sans-serif" text-anchor="start" textLength="40.7" lengthAdjust="spacingAndGlyphs">买入</text><text x="1600.5" y="120.1" font-size="31" fill="#007a00" font-weight="normal" font-family="'Liberation Sans', sans-serif" text-anchor="start" textLength="64" lengthAdjust="spacingAndGlyphs" stroke="#007a00" stroke-width="0.5">2721</text><text x="1719.5" y="119.5" font-size="31" fill="#2a58a6" font-weight="normal" font-family="'Liberation Sans', sans-serif" text-anchor="start" textLength="49.5" lengthAdjust="spacingAndGlyphs" stroke="#2a58a6" stroke-width="0.5">622</text><text x="1507.5" y="154.8" font-size="20.5" fill="#1e1e1e" font-weight="normal" font-family="'Liberation Sans', sans-serif" text-anchor="start" textLength="41" lengthAdjust="spacingAndGlyphs">最新</text><text x="1656.5" y="153.6" font-size="22.5" fill="#007a00" font-weight="bold" font-family="'Liberation Sans', sans-serif" text-anchor="end" textLength="43" lengthAdjust="spacingAndGlyphs">2721</text><text x="1678.3" y="154.8" font-size="20.5" fill="#1e1e1e" font-weight="normal" font-family="'Liberation Sans', sans-serif" text-anchor="start" textLength="41" lengthAdjust="spacingAndGlyphs">涨跌</text><text x="1856" y="153.6" font-size="22.5" fill="#007a00" font-weight="bold" font-family="'Liberation Sans', sans-serif" text-anchor="end" textLength="91.2" lengthAdjust="spacingAndGlyphs">-25/0.91%</text><text x="1507.5" y="187.60000000000002" font-size="20.5" fill="#1e1e1e" font-weight="normal" font-family="'Liberation Sans', sans-serif" text-anchor="start" textLength="41" lengthAdjust="spacingAndGlyphs">现手</text><text x="1656.5" y="186.67" font-size="22.5" fill="#2a58a6" font-weight="bold" font-family="'Liberation Sans', sans-serif" text-anchor="end" textLength="10.5" lengthAdjust="spacingAndGlyphs">6</text><text x="1678.3" y="187.60000000000002" font-size="20.5" fill="#1e1e1e" font-weight="normal" font-family="'Liberation Sans', sans-serif" text-anchor="start" textLength="41" lengthAdjust="spacingAndGlyphs">速涨</text><text x="1856" y="186.67" font-size="22.5" fill="#007a00" font-weight="bold" font-family="'Liberation Sans', sans-serif" text-anchor="end" textLength="62.7" lengthAdjust="spacingAndGlyphs">-0.07%</text><text x="1507.5" y="220.4" font-size="20.5" fill="#1e1e1e" font-weight="normal" font-family="'Liberation Sans', sans-serif" text-anchor="start" textLength="41" lengthAdjust="spacingAndGlyphs">总量</text><text x="1656.5" y="219.74" font-size="22.5" fill="#2a58a6" font-weight="bold" font-family="'Liberation Sans', sans-serif" text-anchor="end" textLength="66.2" lengthAdjust="spacingAndGlyphs">390622</text><text x="1678.3" y="220.4" font-size="20.5" fill="#1e1e1e" font-weight="normal" font-family="'Liberation Sans', sans-serif" text-anchor="start" textLength="41" lengthAdjust="spacingAndGlyphs">开盘</text><text x="1856" y="219.74" font-size="22.5" fill="#007a00" font-weight="bold" font-family="'Liberation Sans', sans-serif" text-anchor="end" textLength="44.6" lengthAdjust="spacingAndGlyphs">2730</text><text x="1507.5" y="253.2" font-size="20.5" fill="#1e1e1e" font-weight="normal" font-family="'Liberation Sans', sans-serif" text-anchor="start" textLength="41" lengthAdjust="spacingAndGlyphs">持仓</text><text x="1656.5" y="252.81" font-size="22.5" fill="#2a58a6" font-weight="bold" font-family="'Liberation Sans', sans-serif" text-anchor="end" textLength="66.5" lengthAdjust="spacingAndGlyphs">990340</text><text x="1678.3" y="253.2" font-size="20.5" fill="#1e1e1e" font-weight="normal" font-family="'Liberation Sans', sans-serif" text-anchor="start" textLength="41" lengthAdjust="spacingAndGlyphs">最高</text><text x="1856" y="252.81" font-size="22.5" fill="#007a00" font-weight="bold" font-family="'Liberation Sans', sans-serif" text-anchor="end" textLength="45" lengthAdjust="spacingAndGlyphs">2737</text><text x="1507.5" y="286.0" font-size="20.5" fill="#1e1e1e" font-weight="normal" font-family="'Liberation Sans', sans-serif" text-anchor="start" textLength="41" lengthAdjust="spacingAndGlyphs">日增</text><text x="1656.5" y="285.88" font-size="22.5" fill="#2a58a6" font-weight="bold" font-family="'Liberation Sans', sans-serif" text-anchor="end" textLength="43.3" lengthAdjust="spacingAndGlyphs">5961</text><text x="1678.3" y="286.0" font-size="20.5" fill="#1e1e1e" font-weight="normal" font-family="'Liberation Sans', sans-serif" text-anchor="start" textLength="41" lengthAdjust="spacingAndGlyphs">最低</text><text x="1856" y="285.88" font-size="22.5" fill="#007a00" font-weight="bold" font-family="'Liberation Sans', sans-serif" text-anchor="end" textLength="45" lengthAdjust="spacingAndGlyphs">2704</text><text x="1507.5" y="318.8" font-size="20.5" fill="#1e1e1e" font-weight="normal" font-family="'Liberation Sans', sans-serif" text-anchor="start" textLength="41" lengthAdjust="spacingAndGlyphs">外盘</text><text x="1656.5" y="318.95" font-size="22.5" fill="#2a58a6" font-weight="bold" font-family="'Liberation Sans', sans-serif" text-anchor="end" textLength="65" lengthAdjust="spacingAndGlyphs">195364</text><text x="1678.3" y="318.8" font-size="20.5" fill="#1e1e1e" font-weight="normal" font-family="'Liberation Sans', sans-serif" text-anchor="start" textLength="61.5" lengthAdjust="spacingAndGlyphs">结算价</text><text x="1856" y="318.95" font-size="22.5" fill="#000" font-weight="bold" font-family="'Liberation Sans', sans-serif" text-anchor="end" textLength="11.5" lengthAdjust="spacingAndGlyphs">0</text><text x="1507.5" y="351.6" font-size="20.5" fill="#1e1e1e" font-weight="normal" font-family="'Liberation Sans', sans-serif" text-anchor="start" textLength="41" lengthAdjust="spacingAndGlyphs">比例</text><text x="1656.5" y="352.02" font-size="22.5" fill="#2a58a6" font-weight="bold" font-family="'Liberation Sans', sans-serif" text-anchor="end" textLength="39" lengthAdjust="spacingAndGlyphs">50%</text><text x="1678.3" y="351.6" font-size="20.5" fill="#1e1e1e" font-weight="normal" font-family="'Liberation Sans', sans-serif" text-anchor="start" textLength="41" lengthAdjust="spacingAndGlyphs">昨收</text><text x="1856" y="352.02" font-size="22.5" fill="#000" font-weight="bold" font-family="'Liberation Sans', sans-serif" text-anchor="end" textLength="45" lengthAdjust="spacingAndGlyphs">2727</text><text x="1507.5" y="384.4" font-size="20.5" fill="#1e1e1e" font-weight="normal" font-family="'Liberation Sans', sans-serif" text-anchor="start" textLength="41" lengthAdjust="spacingAndGlyphs">内盘</text><text x="1656.5" y="385.09000000000003" font-size="22.5" fill="#2a58a6" font-weight="bold" font-family="'Liberation Sans', sans-serif" text-anchor="end" textLength="65" lengthAdjust="spacingAndGlyphs">195258</text><text x="1678.3" y="384.4" font-size="20.5" fill="#1e1e1e" font-weight="normal" font-family="'Liberation Sans', sans-serif" text-anchor="start" textLength="41" lengthAdjust="spacingAndGlyphs">昨结</text><text x="1856" y="385.09000000000003" font-size="22.5" fill="#000" font-weight="bold" font-family="'Liberation Sans', sans-serif" text-anchor="end" textLength="45" lengthAdjust="spacingAndGlyphs">2746</text><text x="1507.5" y="417.2" font-size="20.5" fill="#1e1e1e" font-weight="normal" font-family="'Liberation Sans', sans-serif" text-anchor="start" textLength="41" lengthAdjust="spacingAndGlyphs">比例</text><text x="1656.5" y="418.15999999999997" font-size="22.5" fill="#2a58a6" font-weight="bold" font-family="'Liberation Sans', sans-serif" text-anchor="end" textLength="39" lengthAdjust="spacingAndGlyphs">50%</text><text x="1678.3" y="417.2" font-size="20.5" fill="#1e1e1e" font-weight="normal" font-family="'Liberation Sans', sans-serif" text-anchor="start" textLength="41" lengthAdjust="spacingAndGlyphs">涨停</text><text x="1856" y="418.15999999999997" font-size="22.5" fill="#ff0000" font-weight="bold" font-family="'Liberation Sans', sans-serif" text-anchor="end" textLength="45" lengthAdjust="spacingAndGlyphs">2938</text><text x="1507.5" y="450.0" font-size="20.5" fill="#1e1e1e" font-weight="normal" font-family="'Liberation Sans', sans-serif" text-anchor="start" textLength="41" lengthAdjust="spacingAndGlyphs">杠杆</text><text x="1656.5" y="451.23" font-size="22.5" fill="#2a58a6" font-weight="bold" font-family="'Liberation Sans', sans-serif" text-anchor="end" textLength="35" lengthAdjust="spacingAndGlyphs">-----</text><text x="1678.3" y="450.0" font-size="20.5" fill="#1e1e1e" font-weight="normal" font-family="'Liberation Sans', sans-serif" text-anchor="start" textLength="41" lengthAdjust="spacingAndGlyphs">跌停</text><text x="1856" y="451.23" font-size="22.5" fill="#007a00" font-weight="bold" font-family="'Liberation Sans', sans-serif" text-anchor="end" textLength="45" lengthAdjust="spacingAndGlyphs">2554</text><polygon points="1743,312.5 1757,312.5 1750,318.5" fill="#9a9a9a"/><text x="1510" y="496.7" font-size="20.5" fill="#2a58a6" font-weight="bold" font-family="'Liberation Sans', sans-serif" text-anchor="start" textLength="53.2" lengthAdjust="spacingAndGlyphs">33.2%</text><rect x="1608" y="484" width="51" height="12.7" fill="#ee0000"/><text x="1661" y="495" font-size="20.5" fill="#1e1e1e" font-weight="normal" font-family="'Liberation Sans', sans-serif" text-anchor="start">大</text><text x="1688" y="495" font-size="20.5" fill="#1e1e1e" font-weight="normal" font-family="'Liberation Sans', sans-serif" text-anchor="start">单</text><rect x="1712" y="484" width="50" height="12.7" fill="#007a00"/><text x="1860.8" y="496.7" font-size="20.5" fill="#2a58a6" font-weight="bold" font-family="'Liberation Sans', sans-serif" text-anchor="end" textLength="52.8" lengthAdjust="spacingAndGlyphs">33.0%</text><text x="1510" y="533.8" font-size="20.5" fill="#2a58a6" font-weight="bold" font-family="'Liberation Sans', sans-serif" text-anchor="start" textLength="53.2" lengthAdjust="spacingAndGlyphs">16.9%</text><rect x="1633" y="521.2" width="26" height="12.7" fill="#ee0000"/><text x="1661" y="532" font-size="20.5" fill="#1e1e1e" font-weight="normal" font-family="'Liberation Sans', sans-serif" text-anchor="start">散</text><text x="1688" y="532" font-size="20.5" fill="#1e1e1e" font-weight="normal" font-family="'Liberation Sans', sans-serif" text-anchor="start">单</text><rect x="1712" y="521.2" width="25" height="12.7" fill="#007a00"/><text x="1860.8" y="533.8" font-size="20.5" fill="#2a58a6" font-weight="bold" font-family="'Liberation Sans', sans-serif" text-anchor="end" textLength="52.8" lengthAdjust="spacingAndGlyphs">16.9%</text><text x="1510" y="570.3" font-size="20.5" fill="#2a58a6" font-weight="bold" font-family="'Liberation Sans', sans-serif" text-anchor="start" textLength="53.2" lengthAdjust="spacingAndGlyphs">50.1%</text><rect x="1583" y="558" width="76" height="12.7" fill="#ee0000"/><text x="1661" y="568.5" font-size="20.5" fill="#1e1e1e" font-weight="normal" font-family="'Liberation Sans', sans-serif" text-anchor="start">合</text><text x="1688" y="568.5" font-size="20.5" fill="#1e1e1e" font-weight="normal" font-family="'Liberation Sans', sans-serif" text-anchor="start">计</text><rect x="1712" y="558" width="75" height="12.7" fill="#007a00"/><text x="1860.8" y="570.3" font-size="20.5" fill="#2a58a6" font-weight="bold" font-family="'Liberation Sans', sans-serif" text-anchor="end" textLength="52.8" lengthAdjust="spacingAndGlyphs">49.9%</text><text x="1509" y="605.5" font-size="20.5" fill="#1e1e1e" font-weight="normal" font-family="'Liberation Sans', sans-serif" text-anchor="start" textLength="83" lengthAdjust="spacingAndGlyphs">多方均价</text><text x="1594.3" y="607" font-size="20.5" fill="#2a58a6" font-weight="bold" font-family="'Liberation Sans', sans-serif" text-anchor="start" textLength="43" lengthAdjust="spacingAndGlyphs">2723</text><text x="1733.7" y="607" font-size="20.5" fill="#2a58a6" font-weight="bold" font-family="'Liberation Sans', sans-serif" text-anchor="start" textLength="42.8" lengthAdjust="spacingAndGlyphs">2723</text><text x="1778" y="605.5" font-size="20.5" fill="#1e1e1e" font-weight="normal" font-family="'Liberation Sans', sans-serif" text-anchor="start" textLength="83.2" lengthAdjust="spacingAndGlyphs">空方均价</text><text x="1509" y="655.7" font-size="20.5" fill="#1e1e1e" font-weight="normal" font-family="'Liberation Sans', sans-serif" text-anchor="start" textLength="41.7" lengthAdjust="spacingAndGlyphs">多换</text><text x="1558" y="658.2" font-size="21" fill="#2a58a6" font-weight="bold" font-family="'Liberation Sans', sans-serif" text-anchor="start" textLength="44.2" lengthAdjust="spacingAndGlyphs">2.3%</text><text x="1812.8" y="658.2" font-size="21" fill="#2a58a6" font-weight="bold" font-family="'Liberation Sans', sans-serif" text-anchor="end" textLength="44.6" lengthAdjust="spacingAndGlyphs">2.3%</text><text x="1820.3" y="655.7" font-size="20.5" fill="#1e1e1e" font-weight="normal" font-family="'Liberation Sans', sans-serif" text-anchor="start" textLength="41.6" lengthAdjust="spacingAndGlyphs">空换</text><text x="1509" y="691.6" font-size="20.5" fill="#1e1e1e" font-weight="normal" font-family="'Liberation Sans', sans-serif" text-anchor="start" textLength="41.7" lengthAdjust="spacingAndGlyphs">双开</text><text x="1558" y="694.1" font-size="21" fill="#2a58a6" font-weight="bold" font-family="'Liberation Sans', sans-serif" text-anchor="start" textLength="44.2" lengthAdjust="spacingAndGlyphs">1.6%</text><text x="1812.8" y="694.1" font-size="21" fill="#2a58a6" font-weight="bold" font-family="'Liberation Sans', sans-serif" text-anchor="end" textLength="44.6" lengthAdjust="spacingAndGlyphs">1.5%</text><text x="1820.3" y="691.6" font-size="20.5" fill="#1e1e1e" font-weight="normal" font-family="'Liberation Sans', sans-serif" text-anchor="start" textLength="41.6" lengthAdjust="spacingAndGlyphs">双平</text><text x="1509" y="728" font-size="20.5" fill="#1e1e1e" font-weight="normal" font-family="'Liberation Sans', sans-serif" text-anchor="start" textLength="41.7" lengthAdjust="spacingAndGlyphs">多开</text><text x="1558" y="730.5" font-size="21" fill="#2a58a6" font-weight="bold" font-family="'Liberation Sans', sans-serif" text-anchor="start" textLength="55.3" lengthAdjust="spacingAndGlyphs">22.4%</text><text x="1812.8" y="730.5" font-size="21" fill="#2a58a6" font-weight="bold" font-family="'Liberation Sans', sans-serif" text-anchor="end" textLength="55.3" lengthAdjust="spacingAndGlyphs">24.9%</text><text x="1820.3" y="728" font-size="20.5" fill="#1e1e1e" font-weight="normal" font-family="'Liberation Sans', sans-serif" text-anchor="start" textLength="41.6" lengthAdjust="spacingAndGlyphs">空开</text><text x="1509" y="763.8" font-size="20.5" fill="#1e1e1e" font-weight="normal" font-family="'Liberation Sans', sans-serif" text-anchor="start" textLength="41.7" lengthAdjust="spacingAndGlyphs">空平</text><text x="1558" y="766.3" font-size="21" fill="#2a58a6" font-weight="bold" font-family="'Liberation Sans', sans-serif" text-anchor="start" textLength="55.3" lengthAdjust="spacingAndGlyphs">23.9%</text><text x="1812.8" y="766.3" font-size="21" fill="#2a58a6" font-weight="bold" font-family="'Liberation Sans', sans-serif" text-anchor="end" textLength="55.3" lengthAdjust="spacingAndGlyphs">21.2%</text><text x="1820.3" y="763.8" font-size="20.5" fill="#1e1e1e" font-weight="normal" font-family="'Liberation Sans', sans-serif" text-anchor="start" textLength="41.6" lengthAdjust="spacingAndGlyphs">多平</text><g shape-rendering="crispEdges"><rect x="1680" y="640.8" width="4.5" height="18" fill="#ee0000"/><rect x="1686" y="640.8" width="3" height="18" fill="#007a00"/><rect x="1681" y="677" width="2.5" height="18" fill="#000090"/><rect x="1685.5" y="677" width="2.5" height="18" fill="#000090"/><rect x="1630.2" y="712.8" width="19.8" height="18" fill="#000090"/><rect x="1650.7" y="712.8" width="33.3" height="18" fill="#ee0000"/><rect x="1685.8" y="712.8" width="35.9" height="18" fill="#007a00"/><rect x="1723" y="712.8" width="20" height="18" fill="#000090"/><rect x="1626.9" y="748.7" width="21" height="18" fill="#000090"/><rect x="1648.6" y="748.7" width="35.4" height="18" fill="#ee0000"/><rect x="1685.8" y="748.7" width="30.2" height="18" fill="#007a00"/><rect x="1717" y="748.7" width="18" height="18" fill="#000090"/></g><g fill="none" stroke="#808080" stroke-width="1.2"><path d="M1518,820.5 L1529,843.5 L1586.3,843.5 L1591,831"/><path d="M1587,820.5 L1598.4,843.5 L1655,843.5 L1660,831"/><path d="M1655.9,820.5 L1667.5,843.5 L1724.2,843.5 L1734.6,820.5 L1730.3,832.3 L1736.4,843.5 L1793.8,843.5 L1798.7,833"/></g><text x="1540.4" y="837.5" font-size="17" fill="#707070" font-weight="normal" font-family="'Liberation Sans', sans-serif" text-anchor="start" textLength="33.5" lengthAdjust="spacingAndGlyphs">明细</text><text x="1609.3" y="837.5" font-size="17" fill="#707070" font-weight="normal" font-family="'Liberation Sans', sans-serif" text-anchor="start" textLength="33.5" lengthAdjust="spacingAndGlyphs">分价</text><text x="1678.3" y="837.5" font-size="17" fill="#707070" font-weight="normal" font-family="'Liberation Sans', sans-serif" text-anchor="start" textLength="33.5" lengthAdjust="spacingAndGlyphs">分笔</text><text x="1747.2" y="837.5" font-size="17" fill="#707070" font-weight="normal" font-family="'Liberation Sans', sans-serif" text-anchor="start" textLength="33.5" lengthAdjust="spacingAndGlyphs">统计</text><text x="1759.6" y="824.4" font-size="12.5" fill="#111" font-weight="bold" font-family="'Liberation Sans', sans-serif" text-anchor="start" textLength="96.4" lengthAdjust="spacingAndGlyphs" stroke="#fff" stroke-width="2.2" paint-order="stroke">织梦内容管理系统</text><text x="1759.6" y="836" font-size="9.5" fill="#111" font-weight="bold" font-family="'Liberation Mono', monospace" text-anchor="start" textLength="97" lengthAdjust="spacingAndGlyphs" stroke="#fff" stroke-width="2.2" paint-order="stroke">DEDECMS.COM</text></svg>
</body></html>
